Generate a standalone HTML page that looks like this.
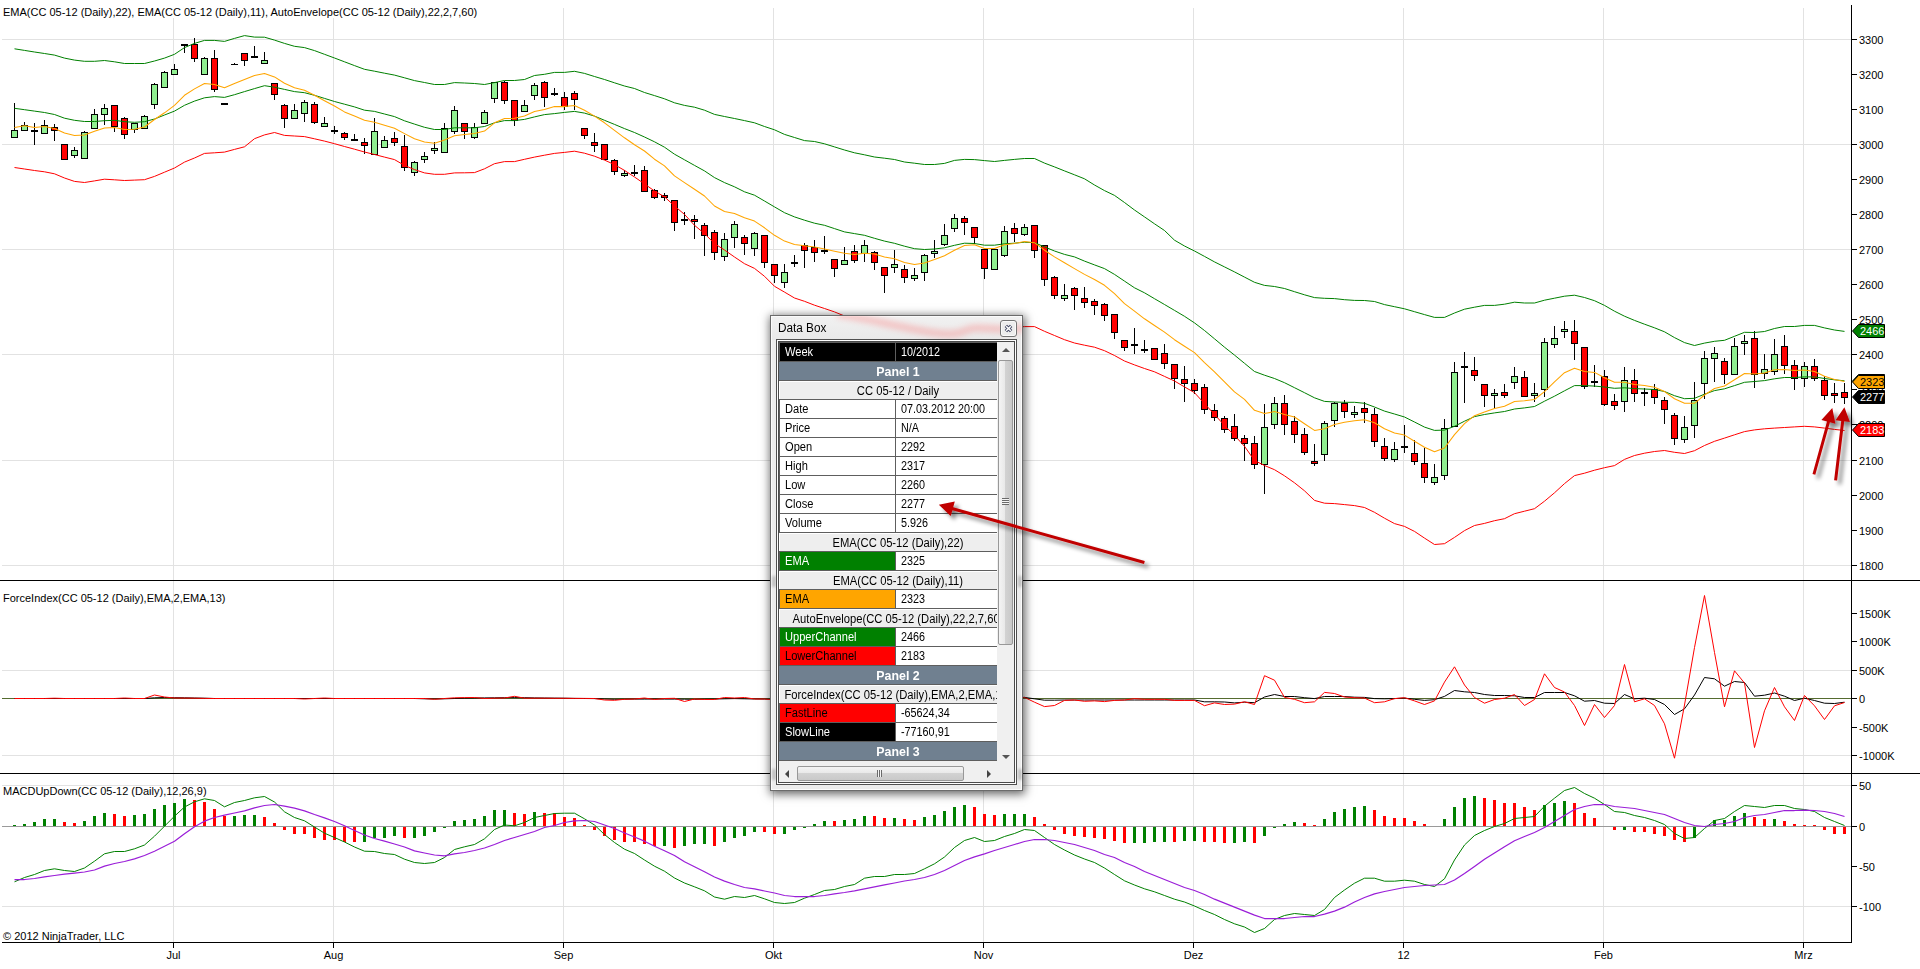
<!DOCTYPE html>
<html><head><meta charset="utf-8"><title>chart</title><style>
html,body{margin:0;padding:0;background:#fff}
body{width:1920px;height:969px;position:relative;overflow:hidden;font-family:"Liberation Sans",sans-serif}
#db{position:absolute;left:770px;top:315px;width:251px;height:474px;border:1px solid #6b6b6b;background:linear-gradient(#f1f1f1,#e9e9e9 24px,#ededed 24px,#ececec);box-shadow:0 0 0 0 #000, 1px 2px 9px 1px rgba(0,0,0,.62);}
#db:before{content:"";position:absolute;left:0;top:0;right:0;bottom:0;border:1px solid #fbfbfb;pointer-events:none}
#db .glass{position:absolute;left:0;top:0;width:251px;height:24px;overflow:hidden}
#db .ttl{position:absolute;left:7px;top:5px;font-size:12px;line-height:14px;color:#000;white-space:nowrap}
#db .ttl span{display:inline-block;transform:scale(.98,1);transform-origin:0 50%}
#db .cls{position:absolute;left:229px;top:4px;width:15px;height:15px;border:1px solid #747474;border-radius:3px;background:#ededed;box-shadow:inset 0 0 0 1px #fafafa;overflow:hidden}
#db .cls svg{position:absolute;left:-1px;top:-1px}
#db .cli{position:absolute;left:5px;top:23px;width:239px;height:444px;border:1px solid #505050}
#db .cli2{position:absolute;left:0;top:0;width:237px;height:442px;border:1px solid #fff}
#db .cli3{position:absolute;left:0;top:0;width:235px;height:440px;border:1px solid #4a4a4a;background:#f0f0f0;overflow:hidden}
#db .rows{position:absolute;left:0;top:0;width:218px;height:419px;background:#5e5e5e;overflow:hidden}
#db .r{position:absolute;left:1px;width:217px;height:18px;font-size:12px;line-height:18px;white-space:nowrap;overflow:hidden}
#db .k{position:absolute;left:0;top:0;width:115px;height:18px}
#db .dv{position:absolute;left:115px;top:0;width:1px;height:18px;background:#5e5e5e}
#db .v{position:absolute;left:116px;top:0;width:101px;height:18px}
#db .k span,#db .v span{position:absolute;left:5px;top:0;display:inline-block;transform:scale(.9,1);transform-origin:0 50%}
#db .k span{transform:scale(.925,1)}
#db .pn{background:#708090;color:#fff;font-weight:bold;left:0;width:218px}
#db .hd{background:#eee;color:#000;left:0;width:218px;box-shadow:inset 1px 1px 0 #fff}
#db .pn span,#db .hd span{position:absolute;top:1px;left:-81.5px;width:400px;text-align:center;display:block;transform:scale(.935,1);transform-origin:50% 50%}
#db .pn span{transform:scale(1.03,1)}
#db .vs{position:absolute;left:218px;top:1px;width:17px;height:421px;background:#f0f0f0}
#db .ua{position:absolute;left:5px;top:5px;width:0;height:0;border-left:4px solid transparent;border-right:4px solid transparent;border-bottom:4px solid #555}
#db .da{position:absolute;left:5px;top:412px;width:0;height:0;border-left:4px solid transparent;border-right:4px solid transparent;border-top:4px solid #555}
#db .vt{position:absolute;left:1px;top:17px;width:13px;height:283px;border:1px solid #989898;border-radius:2px;background:linear-gradient(90deg,#f4f4f4,#e9e9e9 45%,#d2d2d2 50%,#c9c9c9);box-sizing:content-box}
#db .vt i{position:absolute;left:3px;top:137px;width:7px;height:7px;background:repeating-linear-gradient(#6a6a6a 0 1px,#f4f4f4 1px 2px)}
#db .hs{position:absolute;left:0;top:423px;width:218px;height:17px;background:#f0f0f0}
#db .la{position:absolute;left:6px;top:5px;width:0;height:0;border-top:4px solid transparent;border-bottom:4px solid transparent;border-right:4px solid #444}
#db .ra{position:absolute;left:208px;top:5px;width:0;height:0;border-top:4px solid transparent;border-bottom:4px solid transparent;border-left:4px solid #444}
#db .ht{position:absolute;left:18px;top:1px;width:165px;height:13px;border:1px solid #989898;border-radius:2px;background:linear-gradient(#f4f4f4,#e9e9e9 45%,#d2d2d2 50%,#c9c9c9)}
#db .ht i{position:absolute;left:79px;top:3px;width:5px;height:7px;background:repeating-linear-gradient(90deg,#6a6a6a 0 1px,#f4f4f4 1px 2px)}
#db .see{position:absolute;margin:-5px 0 0 1px;width:4px;height:11px;background:rgba(0,0,0,.2);filter:blur(1.6px)}
#arr{position:absolute;left:0;top:0}
</style></head><body>
<svg width="1920" height="969" viewBox="0 0 1920 969" style="position:absolute;left:0;top:0">
<rect width="1920" height="969" fill="#fff"/>
<g shape-rendering="crispEdges" fill="#e2e2e2">
<rect x="2" y="39" width="1849" height="1"/>
<rect x="2" y="144" width="1849" height="1"/>
<rect x="2" y="249" width="1849" height="1"/>
<rect x="2" y="354" width="1849" height="1"/>
<rect x="2" y="460" width="1849" height="1"/>
<rect x="2" y="565" width="1849" height="1"/>
<rect x="2" y="670" width="1849" height="1"/>
<rect x="2" y="755" width="1849" height="1"/>
<rect x="2" y="785" width="1849" height="1"/>
<rect x="2" y="906" width="1849" height="1"/>
<rect x="173" y="8" width="1" height="934"/>
<rect x="333" y="8" width="1" height="934"/>
<rect x="563" y="8" width="1" height="934"/>
<rect x="773" y="8" width="1" height="934"/>
<rect x="983" y="8" width="1" height="934"/>
<rect x="1193" y="8" width="1" height="934"/>
<rect x="1403" y="8" width="1" height="934"/>
<rect x="1603" y="8" width="1" height="934"/>
<rect x="1803" y="8" width="1" height="934"/>
</g>
<rect x="2" y="826" width="1849" height="1" fill="#9a9a9a" shape-rendering="crispEdges"/>
<g shape-rendering="crispEdges" fill="#000">
<rect x="0" y="580" width="1920" height="1"/>
<rect x="0" y="773" width="1920" height="1"/>
<rect x="1851" y="5" width="1" height="938"/>
<rect x="2" y="942" width="1850" height="1"/>
<rect x="173" y="943" width="1" height="5"/>
<rect x="333" y="943" width="1" height="5"/>
<rect x="563" y="943" width="1" height="5"/>
<rect x="773" y="943" width="1" height="5"/>
<rect x="983" y="943" width="1" height="5"/>
<rect x="1193" y="943" width="1" height="5"/>
<rect x="1403" y="943" width="1" height="5"/>
<rect x="1603" y="943" width="1" height="5"/>
<rect x="1803" y="943" width="1" height="5"/>
<rect x="1852" y="39" width="5" height="1"/>
<rect x="1852" y="74" width="5" height="1"/>
<rect x="1852" y="109" width="5" height="1"/>
<rect x="1852" y="144" width="5" height="1"/>
<rect x="1852" y="179" width="5" height="1"/>
<rect x="1852" y="214" width="5" height="1"/>
<rect x="1852" y="249" width="5" height="1"/>
<rect x="1852" y="284" width="5" height="1"/>
<rect x="1852" y="319" width="5" height="1"/>
<rect x="1852" y="354" width="5" height="1"/>
<rect x="1852" y="389" width="5" height="1"/>
<rect x="1852" y="424" width="5" height="1"/>
<rect x="1852" y="460" width="5" height="1"/>
<rect x="1852" y="495" width="5" height="1"/>
<rect x="1852" y="530" width="5" height="1"/>
<rect x="1852" y="565" width="5" height="1"/>
<rect x="1852" y="613" width="5" height="1"/>
<rect x="1852" y="641" width="5" height="1"/>
<rect x="1852" y="670" width="5" height="1"/>
<rect x="1852" y="698" width="5" height="1"/>
<rect x="1852" y="727" width="5" height="1"/>
<rect x="1852" y="755" width="5" height="1"/>
<rect x="1852" y="785" width="5" height="1"/>
<rect x="1852" y="826" width="5" height="1"/>
<rect x="1852" y="866" width="5" height="1"/>
<rect x="1852" y="906" width="5" height="1"/>
</g>
<g font-family="Liberation Sans, sans-serif" font-size="11px" fill="#000">
<text x="1859" y="44">3300</text>
<text x="1859" y="79">3200</text>
<text x="1859" y="114">3100</text>
<text x="1859" y="149">3000</text>
<text x="1859" y="184">2900</text>
<text x="1859" y="219">2800</text>
<text x="1859" y="254">2700</text>
<text x="1859" y="289">2600</text>
<text x="1859" y="324">2500</text>
<text x="1859" y="359">2400</text>
<text x="1859" y="394">2300</text>
<text x="1859" y="429">2200</text>
<text x="1859" y="465">2100</text>
<text x="1859" y="500">2000</text>
<text x="1859" y="535">1900</text>
<text x="1859" y="570">1800</text>
<text x="1859" y="618">1500K</text>
<text x="1859" y="646">1000K</text>
<text x="1859" y="675">500K</text>
<text x="1859" y="703">0</text>
<text x="1859" y="732">-500K</text>
<text x="1859" y="760">-1000K</text>
<text x="1859" y="790">50</text>
<text x="1859" y="831">0</text>
<text x="1859" y="871">-50</text>
<text x="1859" y="911">-100</text>
<text x="173.5" y="959" text-anchor="middle">Jul</text>
<text x="333.5" y="959" text-anchor="middle">Aug</text>
<text x="563.5" y="959" text-anchor="middle">Sep</text>
<text x="773.5" y="959" text-anchor="middle">Okt</text>
<text x="983.5" y="959" text-anchor="middle">Nov</text>
<text x="1193.5" y="959" text-anchor="middle">Dez</text>
<text x="1403.5" y="959" text-anchor="middle">12</text>
<text x="1603.5" y="959" text-anchor="middle">Feb</text>
<text x="1803.5" y="959" text-anchor="middle">Mrz</text>
<rect x="2" y="6" width="480" height="12" fill="#fff"/>
<text x="3" y="16">EMA(CC 05-12 (Daily),22), EMA(CC 05-12 (Daily),11), AutoEnvelope(CC 05-12 (Daily),22,2,7,60)</text>
<text x="3" y="602">ForceIndex(CC 05-12 (Daily),EMA,2,EMA,13)</text>
<text x="3" y="795">MACDUpDown(CC 05-12 (Daily),12,26,9)</text>
<text x="3" y="940">© 2012 NinjaTrader, LLC</text>
</g>
<g shape-rendering="crispEdges">
<rect x="13" y="825" width="3" height="1" fill="#008000"/>
<rect x="23" y="824" width="3" height="2" fill="#008000"/>
<rect x="33" y="822" width="3" height="4" fill="#008000"/>
<rect x="43" y="819" width="3" height="7" fill="#008000"/>
<rect x="53" y="819" width="3" height="7" fill="#008000"/>
<rect x="63" y="822" width="3" height="4" fill="#ff0000"/>
<rect x="73" y="823" width="3" height="3" fill="#ff0000"/>
<rect x="83" y="821" width="3" height="5" fill="#008000"/>
<rect x="93" y="816" width="3" height="10" fill="#008000"/>
<rect x="103" y="813" width="3" height="13" fill="#008000"/>
<rect x="113" y="814" width="3" height="12" fill="#ff0000"/>
<rect x="123" y="816" width="3" height="10" fill="#ff0000"/>
<rect x="133" y="815" width="3" height="11" fill="#008000"/>
<rect x="143" y="814" width="3" height="12" fill="#008000"/>
<rect x="153" y="809" width="3" height="17" fill="#008000"/>
<rect x="163" y="805" width="3" height="21" fill="#008000"/>
<rect x="173" y="803" width="3" height="23" fill="#008000"/>
<rect x="183" y="799" width="3" height="27" fill="#008000"/>
<rect x="193" y="800" width="3" height="26" fill="#ff0000"/>
<rect x="203" y="802" width="3" height="24" fill="#ff0000"/>
<rect x="213" y="809" width="3" height="17" fill="#ff0000"/>
<rect x="223" y="816" width="3" height="10" fill="#ff0000"/>
<rect x="233" y="816" width="3" height="10" fill="#008000"/>
<rect x="243" y="815" width="3" height="11" fill="#008000"/>
<rect x="253" y="815" width="3" height="11" fill="#008000"/>
<rect x="263" y="817" width="3" height="9" fill="#ff0000"/>
<rect x="273" y="823" width="3" height="3" fill="#ff0000"/>
<rect x="283" y="827" width="3" height="3" fill="#ff0000"/>
<rect x="293" y="827" width="3" height="7" fill="#ff0000"/>
<rect x="303" y="827" width="3" height="7" fill="#ff0000"/>
<rect x="313" y="827" width="3" height="11" fill="#ff0000"/>
<rect x="323" y="827" width="3" height="13" fill="#ff0000"/>
<rect x="333" y="827" width="3" height="13" fill="#ff0000"/>
<rect x="343" y="827" width="3" height="15" fill="#ff0000"/>
<rect x="353" y="827" width="3" height="15" fill="#ff0000"/>
<rect x="363" y="827" width="3" height="15" fill="#008000"/>
<rect x="373" y="827" width="3" height="11" fill="#008000"/>
<rect x="383" y="827" width="3" height="11" fill="#008000"/>
<rect x="393" y="827" width="3" height="9" fill="#008000"/>
<rect x="403" y="827" width="3" height="11" fill="#ff0000"/>
<rect x="413" y="827" width="3" height="11" fill="#008000"/>
<rect x="423" y="827" width="3" height="9" fill="#008000"/>
<rect x="433" y="827" width="3" height="5" fill="#008000"/>
<rect x="443" y="827" width="3" height="1" fill="#008000"/>
<rect x="453" y="821" width="3" height="5" fill="#008000"/>
<rect x="463" y="820" width="3" height="6" fill="#008000"/>
<rect x="473" y="819" width="3" height="7" fill="#008000"/>
<rect x="483" y="816" width="3" height="10" fill="#008000"/>
<rect x="493" y="810" width="3" height="16" fill="#008000"/>
<rect x="503" y="810" width="3" height="16" fill="#008000"/>
<rect x="513" y="813" width="3" height="13" fill="#ff0000"/>
<rect x="523" y="814" width="3" height="12" fill="#ff0000"/>
<rect x="533" y="812" width="3" height="14" fill="#008000"/>
<rect x="543" y="813" width="3" height="13" fill="#ff0000"/>
<rect x="553" y="813" width="3" height="13" fill="#ff0000"/>
<rect x="563" y="817" width="3" height="9" fill="#ff0000"/>
<rect x="573" y="818" width="3" height="8" fill="#ff0000"/>
<rect x="583" y="825" width="3" height="1" fill="#ff0000"/>
<rect x="593" y="827" width="3" height="3" fill="#ff0000"/>
<rect x="603" y="827" width="3" height="9" fill="#ff0000"/>
<rect x="613" y="827" width="3" height="13" fill="#ff0000"/>
<rect x="623" y="827" width="3" height="15" fill="#ff0000"/>
<rect x="633" y="827" width="3" height="15" fill="#ff0000"/>
<rect x="643" y="827" width="3" height="17" fill="#ff0000"/>
<rect x="653" y="827" width="3" height="19" fill="#ff0000"/>
<rect x="663" y="827" width="3" height="19" fill="#008000"/>
<rect x="673" y="827" width="3" height="21" fill="#ff0000"/>
<rect x="683" y="827" width="3" height="19" fill="#008000"/>
<rect x="693" y="827" width="3" height="17" fill="#008000"/>
<rect x="703" y="827" width="3" height="17" fill="#008000"/>
<rect x="713" y="827" width="3" height="19" fill="#ff0000"/>
<rect x="723" y="827" width="3" height="15" fill="#008000"/>
<rect x="733" y="827" width="3" height="11" fill="#008000"/>
<rect x="743" y="827" width="3" height="9" fill="#008000"/>
<rect x="753" y="827" width="3" height="5" fill="#008000"/>
<rect x="763" y="827" width="3" height="5" fill="#ff0000"/>
<rect x="773" y="827" width="3" height="7" fill="#ff0000"/>
<rect x="783" y="827" width="3" height="7" fill="#008000"/>
<rect x="793" y="827" width="3" height="3" fill="#008000"/>
<rect x="803" y="827" width="3" height="1" fill="#008000"/>
<rect x="813" y="824" width="3" height="2" fill="#008000"/>
<rect x="823" y="821" width="3" height="5" fill="#008000"/>
<rect x="833" y="821" width="3" height="5" fill="#ff0000"/>
<rect x="843" y="820" width="3" height="6" fill="#008000"/>
<rect x="853" y="819" width="3" height="7" fill="#008000"/>
<rect x="863" y="816" width="3" height="10" fill="#008000"/>
<rect x="873" y="816" width="3" height="10" fill="#ff0000"/>
<rect x="883" y="818" width="3" height="8" fill="#ff0000"/>
<rect x="893" y="818" width="3" height="8" fill="#008000"/>
<rect x="903" y="819" width="3" height="7" fill="#ff0000"/>
<rect x="913" y="820" width="3" height="6" fill="#ff0000"/>
<rect x="923" y="817" width="3" height="9" fill="#008000"/>
<rect x="933" y="815" width="3" height="11" fill="#008000"/>
<rect x="943" y="811" width="3" height="15" fill="#008000"/>
<rect x="953" y="807" width="3" height="19" fill="#008000"/>
<rect x="963" y="805" width="3" height="21" fill="#008000"/>
<rect x="973" y="807" width="3" height="19" fill="#ff0000"/>
<rect x="983" y="814" width="3" height="12" fill="#ff0000"/>
<rect x="993" y="815" width="3" height="11" fill="#ff0000"/>
<rect x="1003" y="814" width="3" height="12" fill="#008000"/>
<rect x="1013" y="814" width="3" height="12" fill="#008000"/>
<rect x="1023" y="814" width="3" height="12" fill="#008000"/>
<rect x="1033" y="817" width="3" height="9" fill="#ff0000"/>
<rect x="1043" y="824" width="3" height="2" fill="#ff0000"/>
<rect x="1053" y="827" width="3" height="3" fill="#ff0000"/>
<rect x="1063" y="827" width="3" height="7" fill="#ff0000"/>
<rect x="1073" y="827" width="3" height="9" fill="#ff0000"/>
<rect x="1083" y="827" width="3" height="10" fill="#ff0000"/>
<rect x="1093" y="827" width="3" height="11" fill="#ff0000"/>
<rect x="1103" y="827" width="3" height="12" fill="#ff0000"/>
<rect x="1113" y="827" width="3" height="14" fill="#ff0000"/>
<rect x="1123" y="827" width="3" height="16" fill="#ff0000"/>
<rect x="1133" y="827" width="3" height="16" fill="#008000"/>
<rect x="1143" y="827" width="3" height="16" fill="#008000"/>
<rect x="1153" y="827" width="3" height="15" fill="#008000"/>
<rect x="1163" y="827" width="3" height="15" fill="#008000"/>
<rect x="1173" y="827" width="3" height="15" fill="#ff0000"/>
<rect x="1183" y="827" width="3" height="14" fill="#008000"/>
<rect x="1193" y="827" width="3" height="14" fill="#008000"/>
<rect x="1203" y="827" width="3" height="15" fill="#ff0000"/>
<rect x="1213" y="827" width="3" height="15" fill="#ff0000"/>
<rect x="1223" y="827" width="3" height="16" fill="#ff0000"/>
<rect x="1233" y="827" width="3" height="16" fill="#008000"/>
<rect x="1243" y="827" width="3" height="15" fill="#008000"/>
<rect x="1253" y="827" width="3" height="16" fill="#ff0000"/>
<rect x="1263" y="827" width="3" height="9" fill="#008000"/>
<rect x="1273" y="827" width="3" height="1" fill="#008000"/>
<rect x="1283" y="824" width="3" height="2" fill="#008000"/>
<rect x="1293" y="822" width="3" height="4" fill="#008000"/>
<rect x="1303" y="823" width="3" height="3" fill="#ff0000"/>
<rect x="1313" y="825" width="3" height="1" fill="#ff0000"/>
<rect x="1323" y="819" width="3" height="7" fill="#008000"/>
<rect x="1333" y="812" width="3" height="14" fill="#008000"/>
<rect x="1343" y="809" width="3" height="17" fill="#008000"/>
<rect x="1353" y="807" width="3" height="19" fill="#008000"/>
<rect x="1363" y="806" width="3" height="20" fill="#008000"/>
<rect x="1373" y="810" width="3" height="16" fill="#ff0000"/>
<rect x="1383" y="816" width="3" height="10" fill="#ff0000"/>
<rect x="1393" y="818" width="3" height="8" fill="#ff0000"/>
<rect x="1403" y="818" width="3" height="8" fill="#ff0000"/>
<rect x="1413" y="821" width="3" height="5" fill="#ff0000"/>
<rect x="1423" y="824" width="3" height="2" fill="#ff0000"/>
<rect x="1443" y="819" width="3" height="7" fill="#008000"/>
<rect x="1453" y="807" width="3" height="19" fill="#008000"/>
<rect x="1463" y="798" width="3" height="28" fill="#008000"/>
<rect x="1473" y="796" width="3" height="30" fill="#008000"/>
<rect x="1483" y="798" width="3" height="28" fill="#ff0000"/>
<rect x="1493" y="800" width="3" height="26" fill="#ff0000"/>
<rect x="1503" y="803" width="3" height="23" fill="#ff0000"/>
<rect x="1513" y="803" width="3" height="23" fill="#ff0000"/>
<rect x="1523" y="807" width="3" height="19" fill="#ff0000"/>
<rect x="1533" y="810" width="3" height="16" fill="#ff0000"/>
<rect x="1543" y="805" width="3" height="21" fill="#008000"/>
<rect x="1553" y="803" width="3" height="23" fill="#008000"/>
<rect x="1563" y="801" width="3" height="25" fill="#008000"/>
<rect x="1573" y="803" width="3" height="23" fill="#ff0000"/>
<rect x="1583" y="813" width="3" height="13" fill="#ff0000"/>
<rect x="1593" y="818" width="3" height="8" fill="#ff0000"/>
<rect x="1613" y="827" width="3" height="3" fill="#ff0000"/>
<rect x="1623" y="827" width="3" height="3" fill="#008000"/>
<rect x="1633" y="827" width="3" height="5" fill="#ff0000"/>
<rect x="1643" y="827" width="3" height="5" fill="#ff0000"/>
<rect x="1653" y="827" width="3" height="7" fill="#ff0000"/>
<rect x="1663" y="827" width="3" height="9" fill="#ff0000"/>
<rect x="1673" y="827" width="3" height="13" fill="#ff0000"/>
<rect x="1683" y="827" width="3" height="15" fill="#ff0000"/>
<rect x="1693" y="827" width="3" height="11" fill="#008000"/>
<rect x="1713" y="820" width="3" height="6" fill="#008000"/>
<rect x="1723" y="820" width="3" height="6" fill="#008000"/>
<rect x="1733" y="816" width="3" height="10" fill="#008000"/>
<rect x="1743" y="813" width="3" height="13" fill="#008000"/>
<rect x="1753" y="817" width="3" height="9" fill="#ff0000"/>
<rect x="1763" y="819" width="3" height="7" fill="#ff0000"/>
<rect x="1773" y="819" width="3" height="7" fill="#008000"/>
<rect x="1783" y="821" width="3" height="5" fill="#ff0000"/>
<rect x="1793" y="824" width="3" height="2" fill="#ff0000"/>
<rect x="1803" y="825" width="3" height="1" fill="#ff0000"/>
<rect x="1813" y="825" width="3" height="1" fill="#ff0000"/>
<rect x="1823" y="827" width="3" height="3" fill="#ff0000"/>
<rect x="1833" y="827" width="3" height="7" fill="#ff0000"/>
<rect x="1843" y="827" width="3" height="7" fill="#ff0000"/>
</g>
<polyline points="14.5,881.8 24.5,877.5 34.5,874.5 44.5,870.5 54.5,868.8 64.5,870.5 74.5,871.5 84.5,868.0 94.5,861.2 104.5,853.8 114.5,851.5 124.5,851.5 134.5,848.8 144.5,845.0 154.5,836.2 164.5,826.2 174.5,816.2 184.5,807.0 194.5,801.8 204.5,798.8 214.5,800.5 224.5,806.8 234.5,802.5 244.5,800.5 254.5,797.8 264.5,796.5 274.5,802.0 284.5,811.8 294.5,817.5 304.5,820.8 314.5,827.0 324.5,833.2 334.5,837.5 344.5,842.0 354.5,847.0 364.5,851.2 374.5,851.5 384.5,853.5 394.5,854.5 404.5,859.2 414.5,862.5 424.5,863.5 434.5,862.5 444.5,857.5 454.5,849.5 464.5,846.8 474.5,844.5 484.5,838.8 494.5,829.5 504.5,825.0 514.5,825.8 524.5,822.5 534.5,817.5 544.5,815.5 554.5,813.5 564.5,813.2 574.5,813.2 584.5,818.8 594.5,825.0 604.5,834.5 614.5,842.5 624.5,849.2 634.5,853.5 644.5,860.0 654.5,866.2 664.5,871.2 674.5,878.0 684.5,883.0 694.5,886.8 704.5,890.8 714.5,897.0 724.5,899.2 734.5,896.5 744.5,897.5 754.5,895.5 764.5,898.8 774.5,902.5 784.5,903.5 794.5,902.5 804.5,898.2 814.5,894.5 824.5,890.5 834.5,889.5 844.5,886.5 854.5,884.5 864.5,878.2 874.5,876.5 884.5,876.5 894.5,874.5 904.5,874.5 914.5,873.5 924.5,868.8 934.5,863.8 944.5,857.0 954.5,847.5 964.5,840.5 974.5,837.5 984.5,841.5 994.5,840.5 1004.5,836.5 1014.5,833.5 1024.5,829.5 1034.5,830.5 1044.5,837.5 1054.5,844.5 1064.5,850.0 1074.5,855.0 1084.5,859.0 1094.5,862.5 1104.5,868.0 1114.5,874.5 1124.5,880.8 1134.5,885.0 1144.5,888.8 1154.5,891.8 1164.5,895.5 1174.5,899.2 1184.5,902.0 1194.5,906.0 1204.5,910.5 1214.5,914.5 1224.5,919.5 1234.5,923.8 1244.5,927.0 1254.5,932.5 1264.5,928.5 1274.5,919.5 1284.5,915.5 1294.5,913.5 1304.5,914.5 1314.5,915.5 1324.5,909.5 1334.5,897.5 1344.5,890.0 1354.5,883.2 1364.5,878.2 1374.5,878.2 1384.5,881.2 1394.5,881.2 1404.5,880.2 1414.5,881.2 1424.5,884.5 1434.5,886.5 1444.5,878.8 1454.5,860.0 1464.5,845.0 1474.5,835.5 1484.5,830.5 1494.5,826.5 1504.5,823.5 1514.5,818.5 1524.5,817.5 1534.5,816.5 1544.5,806.2 1554.5,798.2 1564.5,790.5 1574.5,787.5 1584.5,793.5 1594.5,798.2 1604.5,804.5 1614.5,811.5 1624.5,812.5 1634.5,815.5 1644.5,817.5 1654.5,820.5 1664.5,824.5 1674.5,833.5 1684.5,838.5 1694.5,837.5 1704.5,828.5 1714.5,820.5 1724.5,818.5 1734.5,811.5 1744.5,805.5 1754.5,806.5 1764.5,807.5 1774.5,805.5 1784.5,805.5 1794.5,808.5 1804.5,809.5 1814.5,811.5 1824.5,817.5 1834.5,821.5 1844.5,825.5" fill="none" stroke="#008000" stroke-width="1.0" stroke-linejoin="round" />
<polyline points="14.5,879.5 24.5,879.5 34.5,878.5 44.5,876.8 54.5,875.5 64.5,874.2 74.5,873.2 84.5,872.0 94.5,870.0 104.5,866.2 114.5,863.5 124.5,861.5 134.5,858.8 144.5,855.5 154.5,851.2 164.5,846.2 174.5,841.2 184.5,833.8 194.5,826.8 204.5,821.2 214.5,817.5 224.5,815.2 234.5,813.0 244.5,810.8 254.5,807.8 264.5,805.5 274.5,804.5 284.5,806.2 294.5,808.2 304.5,810.8 314.5,814.5 324.5,817.8 334.5,821.5 344.5,825.8 354.5,830.5 364.5,835.0 374.5,838.5 384.5,841.2 394.5,844.0 404.5,847.0 414.5,850.8 424.5,853.0 434.5,855.0 444.5,855.8 454.5,853.8 464.5,852.5 474.5,850.5 484.5,848.0 494.5,844.5 504.5,840.5 514.5,837.5 524.5,834.5 534.5,831.5 544.5,827.5 554.5,825.5 564.5,822.5 574.5,820.8 584.5,820.5 594.5,821.5 604.5,825.0 614.5,828.5 624.5,833.0 634.5,837.0 644.5,841.2 654.5,846.2 664.5,850.8 674.5,855.5 684.5,861.8 694.5,866.8 704.5,871.8 714.5,877.0 724.5,881.2 734.5,884.5 744.5,887.5 754.5,888.8 764.5,891.0 774.5,893.0 784.5,895.5 794.5,896.5 804.5,896.5 814.5,896.5 824.5,895.5 834.5,893.8 844.5,892.5 854.5,890.8 864.5,888.8 874.5,886.8 884.5,884.8 894.5,883.0 904.5,881.0 914.5,879.5 924.5,877.5 934.5,874.5 944.5,870.5 954.5,865.5 964.5,860.5 974.5,856.8 984.5,853.8 994.5,850.5 1004.5,847.5 1014.5,844.5 1024.5,841.5 1034.5,839.5 1044.5,839.5 1054.5,840.5 1064.5,842.5 1074.5,844.5 1084.5,847.5 1094.5,850.5 1104.5,854.5 1114.5,857.5 1124.5,862.5 1134.5,866.5 1144.5,871.5 1154.5,875.5 1164.5,879.5 1174.5,883.5 1184.5,887.5 1194.5,890.5 1204.5,894.5 1214.5,899.2 1224.5,903.2 1234.5,907.2 1244.5,911.2 1254.5,915.2 1264.5,918.5 1274.5,918.5 1284.5,918.5 1294.5,917.5 1304.5,916.5 1314.5,916.5 1324.5,914.2 1334.5,911.2 1344.5,907.2 1354.5,902.0 1364.5,897.5 1374.5,893.8 1384.5,891.5 1394.5,889.5 1404.5,887.5 1414.5,886.5 1424.5,885.5 1434.5,885.0 1444.5,884.5 1454.5,880.0 1464.5,873.5 1474.5,866.5 1484.5,859.2 1494.5,853.0 1504.5,846.8 1514.5,840.8 1524.5,836.5 1534.5,832.5 1544.5,827.5 1554.5,821.5 1564.5,815.5 1574.5,809.5 1584.5,806.5 1594.5,804.5 1604.5,804.5 1614.5,806.5 1624.5,807.5 1634.5,808.5 1644.5,810.5 1654.5,812.5 1664.5,814.5 1674.5,818.5 1684.5,822.5 1694.5,825.5 1704.5,826.5 1714.5,824.5 1724.5,823.5 1734.5,821.5 1744.5,817.5 1754.5,815.5 1764.5,814.5 1774.5,812.5 1784.5,810.5 1794.5,810.5 1804.5,810.2 1814.5,810.5 1824.5,811.5 1834.5,813.5 1844.5,816.5" fill="none" stroke="#9a1ed8" stroke-width="1.25" stroke-linejoin="round" />
<rect x="2" y="698" width="1849" height="1" fill="#556b2f" shape-rendering="crispEdges"/>
<polyline points="14.5,698.5 24.5,698.5 34.5,698.5 44.5,698.5 54.5,698.5 64.5,698.5 74.5,698.5 84.5,698.5 94.5,698.5 104.5,698.5 114.5,698.5 124.5,698.5 134.5,698.5 144.5,698.5 154.5,697.8 164.5,697.5 174.5,697.7 184.5,697.8 194.5,698.0 204.5,698.2 214.5,698.5 224.5,698.5 234.5,698.5 244.5,698.5 254.5,698.5 264.5,698.5 274.5,698.5 284.5,698.5 294.5,698.5 304.5,698.5 314.5,698.5 324.5,698.5 334.5,698.5 344.5,698.5 354.5,698.5 364.5,698.5 374.5,698.5 384.5,698.5 394.5,698.5 404.5,698.5 414.5,698.5 424.5,698.8 434.5,699.0 444.5,698.8 454.5,698.5 464.5,698.2 474.5,698.0 484.5,697.9 494.5,697.8 504.5,697.7 514.5,697.6 524.5,697.7 534.5,697.9 544.5,698.0 554.5,698.1 564.5,698.2 574.5,698.4 584.5,698.5 594.5,698.6 604.5,699.0 614.5,699.3 624.5,699.2 634.5,699.1 644.5,699.1 654.5,699.0 664.5,699.1 674.5,699.1 684.5,699.2 694.5,699.3 704.5,699.1 714.5,699.0 724.5,698.8 734.5,698.6 744.5,698.8 754.5,699.0 764.5,699.1 774.5,699.3 784.5,699.6 794.5,700.0 804.5,699.9 814.5,699.8 824.5,699.7 834.5,699.6 844.5,699.5 854.5,699.5 864.5,699.4 874.5,699.3 884.5,699.2 894.5,699.1 904.5,699.0 914.5,698.9 924.5,698.8 934.5,698.7 944.5,698.6 954.5,698.5 964.5,698.5 974.5,698.4 984.5,698.3 994.5,698.2 1004.5,698.1 1014.5,698.0 1024.5,697.4 1034.5,698.8 1044.5,700.2 1054.5,700.2 1064.5,700.0 1074.5,700.0 1084.5,700.0 1094.5,700.0 1104.5,700.0 1114.5,700.0 1124.5,700.0 1134.5,700.0 1144.5,700.0 1154.5,700.0 1164.5,700.0 1174.5,700.0 1184.5,700.0 1194.5,700.0 1204.5,701.8 1214.5,701.8 1224.5,702.0 1234.5,702.9 1244.5,702.2 1254.5,702.7 1264.5,697.0 1274.5,694.5 1284.5,696.5 1294.5,696.5 1304.5,697.7 1314.5,698.6 1324.5,696.5 1334.5,696.5 1344.5,696.5 1354.5,697.2 1364.5,697.4 1374.5,698.6 1384.5,698.8 1394.5,698.6 1404.5,698.1 1414.5,699.3 1424.5,700.4 1434.5,699.7 1444.5,696.4 1454.5,690.5 1464.5,691.8 1474.5,692.5 1484.5,694.5 1494.5,695.5 1504.5,695.5 1514.5,695.8 1524.5,697.5 1534.5,697.5 1544.5,692.5 1554.5,692.5 1564.5,692.5 1574.5,695.8 1584.5,701.2 1594.5,700.5 1604.5,703.2 1614.5,703.5 1624.5,694.5 1634.5,698.8 1644.5,698.2 1654.5,699.5 1664.5,704.5 1674.5,714.5 1684.5,708.8 1694.5,695.0 1704.5,677.5 1714.5,678.8 1724.5,686.2 1734.5,681.5 1744.5,682.5 1754.5,696.2 1764.5,695.2 1774.5,693.0 1784.5,696.2 1794.5,700.5 1804.5,698.2 1814.5,700.5 1824.5,703.2 1834.5,703.5 1844.5,702.2" fill="none" stroke="#000" stroke-width="1.0" stroke-linejoin="round" />
<polyline points="14.5,698.5 24.5,698.5 34.5,698.5 44.5,698.5 54.5,698.2 64.5,698.5 74.5,698.5 84.5,698.5 94.5,698.5 104.5,698.5 114.5,698.5 124.5,698.0 134.5,698.5 144.5,698.5 154.5,695.0 164.5,697.0 174.5,698.0 184.5,698.1 194.5,698.2 204.5,698.4 214.5,698.5 224.5,698.5 234.5,698.5 244.5,698.5 254.5,698.5 264.5,698.5 274.5,698.5 284.5,698.5 294.5,698.5 304.5,699.0 314.5,698.5 324.5,698.0 334.5,698.5 344.5,698.5 354.5,698.5 364.5,698.5 374.5,698.5 384.5,698.5 394.5,698.5 404.5,698.5 414.5,698.5 424.5,698.5 434.5,699.3 444.5,698.5 454.5,697.8 464.5,697.6 474.5,697.5 484.5,698.5 494.5,698.2 504.5,698.0 514.5,696.3 524.5,698.2 534.5,698.2 544.5,698.2 554.5,698.3 564.5,698.3 574.5,698.4 584.5,698.4 594.5,698.5 604.5,700.0 614.5,700.3 624.5,699.3 634.5,699.0 644.5,698.0 654.5,699.5 664.5,698.5 674.5,698.3 684.5,701.5 694.5,699.0 704.5,699.5 714.5,699.5 724.5,697.5 734.5,698.0 744.5,697.5 754.5,699.0 764.5,699.0 774.5,700.0 784.5,701.5 794.5,701.3 804.5,701.2 814.5,701.0 824.5,700.9 834.5,700.7 844.5,700.6 854.5,700.4 864.5,700.3 874.5,700.1 884.5,700.0 894.5,699.8 904.5,699.7 914.5,699.5 924.5,699.4 934.5,699.2 944.5,699.1 954.5,698.9 964.5,698.8 974.5,698.6 984.5,698.5 994.5,698.3 1004.5,698.2 1014.5,698.0 1024.5,697.4 1034.5,702.2 1044.5,706.6 1054.5,705.5 1064.5,700.4 1074.5,700.0 1084.5,701.3 1094.5,700.9 1104.5,701.6 1114.5,700.4 1124.5,700.0 1134.5,698.6 1144.5,699.3 1154.5,699.3 1164.5,699.3 1174.5,700.4 1184.5,700.4 1194.5,700.4 1204.5,705.7 1214.5,702.9 1224.5,704.5 1234.5,704.1 1244.5,701.8 1254.5,704.5 1264.5,675.7 1274.5,680.2 1284.5,697.4 1294.5,699.3 1304.5,702.7 1314.5,701.8 1324.5,692.4 1334.5,693.5 1344.5,697.0 1354.5,697.7 1364.5,698.1 1374.5,702.7 1384.5,701.8 1394.5,698.6 1404.5,697.7 1414.5,700.9 1424.5,704.5 1434.5,700.9 1444.5,682.1 1454.5,666.8 1464.5,685.0 1474.5,697.5 1484.5,703.2 1494.5,699.5 1504.5,698.2 1514.5,694.5 1524.5,705.5 1534.5,699.5 1544.5,673.8 1554.5,687.5 1564.5,692.0 1574.5,705.5 1584.5,725.5 1594.5,704.5 1604.5,717.5 1614.5,705.5 1624.5,664.5 1634.5,701.8 1644.5,698.8 1654.5,705.5 1664.5,723.8 1674.5,758.2 1684.5,705.0 1694.5,647.5 1704.5,595.5 1714.5,652.5 1724.5,706.8 1734.5,670.8 1744.5,683.0 1754.5,747.5 1764.5,710.8 1774.5,687.5 1784.5,706.8 1794.5,720.5 1804.5,695.5 1814.5,705.8 1824.5,719.5 1834.5,705.8 1844.5,702.5" fill="none" stroke="#ff0000" stroke-width="1.0" stroke-linejoin="round" />
<g shape-rendering="crispEdges">
<rect x="14" y="103" width="1" height="35" fill="#000"/>
<rect x="11" y="130" width="7" height="8" fill="#000"/>
<rect x="12" y="131" width="5" height="6" fill="#90ee90"/>
<rect x="24" y="122" width="1" height="9" fill="#000"/>
<rect x="21" y="125" width="7" height="6" fill="#000"/>
<rect x="22" y="126" width="5" height="4" fill="#90ee90"/>
<rect x="34" y="123" width="1" height="22" fill="#000"/>
<rect x="31" y="130" width="7" height="2" fill="#000"/>
<rect x="44" y="120" width="1" height="14" fill="#000"/>
<rect x="41" y="125" width="7" height="9" fill="#000"/>
<rect x="42" y="126" width="5" height="7" fill="#90ee90"/>
<rect x="54" y="124" width="1" height="17" fill="#000"/>
<rect x="51" y="127" width="7" height="4" fill="#000"/>
<rect x="52" y="128" width="5" height="2" fill="#ff0000"/>
<rect x="64" y="144" width="1" height="16" fill="#000"/>
<rect x="61" y="144" width="7" height="16" fill="#000"/>
<rect x="62" y="145" width="5" height="14" fill="#ff0000"/>
<rect x="74" y="147" width="1" height="11" fill="#000"/>
<rect x="71" y="150" width="7" height="6" fill="#000"/>
<rect x="72" y="151" width="5" height="4" fill="#90ee90"/>
<rect x="84" y="131" width="1" height="28" fill="#000"/>
<rect x="81" y="132" width="7" height="27" fill="#000"/>
<rect x="82" y="133" width="5" height="25" fill="#90ee90"/>
<rect x="94" y="109" width="1" height="20" fill="#000"/>
<rect x="91" y="114" width="7" height="15" fill="#000"/>
<rect x="92" y="115" width="5" height="13" fill="#90ee90"/>
<rect x="104" y="104" width="1" height="21" fill="#000"/>
<rect x="101" y="108" width="7" height="7" fill="#000"/>
<rect x="102" y="109" width="5" height="5" fill="#90ee90"/>
<rect x="114" y="105" width="1" height="27" fill="#000"/>
<rect x="111" y="105" width="7" height="22" fill="#000"/>
<rect x="112" y="106" width="5" height="20" fill="#ff0000"/>
<rect x="124" y="117" width="1" height="22" fill="#000"/>
<rect x="121" y="118" width="7" height="17" fill="#000"/>
<rect x="122" y="119" width="5" height="15" fill="#ff0000"/>
<rect x="134" y="123" width="1" height="10" fill="#000"/>
<rect x="131" y="123" width="7" height="7" fill="#000"/>
<rect x="132" y="124" width="5" height="5" fill="#90ee90"/>
<rect x="144" y="115" width="1" height="14" fill="#000"/>
<rect x="141" y="116" width="7" height="13" fill="#000"/>
<rect x="142" y="117" width="5" height="11" fill="#90ee90"/>
<rect x="154" y="83" width="1" height="26" fill="#000"/>
<rect x="151" y="84" width="7" height="21" fill="#000"/>
<rect x="152" y="85" width="5" height="19" fill="#90ee90"/>
<rect x="164" y="71" width="1" height="17" fill="#000"/>
<rect x="161" y="72" width="7" height="16" fill="#000"/>
<rect x="162" y="73" width="5" height="14" fill="#90ee90"/>
<rect x="174" y="64" width="1" height="11" fill="#000"/>
<rect x="171" y="69" width="7" height="6" fill="#000"/>
<rect x="172" y="70" width="5" height="4" fill="#90ee90"/>
<rect x="184" y="44" width="1" height="9" fill="#000"/>
<rect x="181" y="44" width="7" height="2" fill="#000"/>
<rect x="194" y="38" width="1" height="24" fill="#000"/>
<rect x="191" y="44" width="7" height="15" fill="#000"/>
<rect x="192" y="45" width="5" height="13" fill="#ff0000"/>
<rect x="204" y="57" width="1" height="18" fill="#000"/>
<rect x="201" y="58" width="7" height="17" fill="#000"/>
<rect x="202" y="59" width="5" height="15" fill="#90ee90"/>
<rect x="214" y="50" width="1" height="42" fill="#000"/>
<rect x="211" y="58" width="7" height="32" fill="#000"/>
<rect x="212" y="59" width="5" height="30" fill="#ff0000"/>
<rect x="224" y="103" width="1" height="2" fill="#000"/>
<rect x="221" y="103" width="7" height="2" fill="#000"/>
<rect x="234" y="63" width="1" height="2" fill="#000"/>
<rect x="231" y="64" width="7" height="1" fill="#000"/>
<rect x="244" y="53" width="1" height="13" fill="#000"/>
<rect x="241" y="53" width="7" height="8" fill="#000"/>
<rect x="242" y="54" width="5" height="6" fill="#ff0000"/>
<rect x="254" y="46" width="1" height="12" fill="#000"/>
<rect x="251" y="56" width="7" height="2" fill="#000"/>
<rect x="264" y="52" width="1" height="12" fill="#000"/>
<rect x="261" y="60" width="7" height="4" fill="#000"/>
<rect x="262" y="61" width="5" height="2" fill="#90ee90"/>
<rect x="274" y="83" width="1" height="17" fill="#000"/>
<rect x="271" y="83" width="7" height="12" fill="#000"/>
<rect x="272" y="84" width="5" height="10" fill="#ff0000"/>
<rect x="284" y="104" width="1" height="24" fill="#000"/>
<rect x="281" y="105" width="7" height="14" fill="#000"/>
<rect x="282" y="106" width="5" height="12" fill="#ff0000"/>
<rect x="294" y="104" width="1" height="15" fill="#000"/>
<rect x="291" y="110" width="7" height="9" fill="#000"/>
<rect x="292" y="111" width="5" height="7" fill="#90ee90"/>
<rect x="304" y="100" width="1" height="22" fill="#000"/>
<rect x="301" y="102" width="7" height="12" fill="#000"/>
<rect x="302" y="103" width="5" height="10" fill="#90ee90"/>
<rect x="314" y="102" width="1" height="22" fill="#000"/>
<rect x="311" y="104" width="7" height="19" fill="#000"/>
<rect x="312" y="105" width="5" height="17" fill="#ff0000"/>
<rect x="324" y="117" width="1" height="10" fill="#000"/>
<rect x="321" y="123" width="7" height="4" fill="#000"/>
<rect x="322" y="124" width="5" height="2" fill="#90ee90"/>
<rect x="334" y="126" width="1" height="8" fill="#000"/>
<rect x="331" y="130" width="7" height="2" fill="#000"/>
<rect x="344" y="132" width="1" height="8" fill="#000"/>
<rect x="341" y="133" width="7" height="5" fill="#000"/>
<rect x="342" y="134" width="5" height="3" fill="#ff0000"/>
<rect x="354" y="134" width="1" height="7" fill="#000"/>
<rect x="351" y="139" width="7" height="2" fill="#000"/>
<rect x="364" y="138" width="1" height="16" fill="#000"/>
<rect x="361" y="142" width="7" height="4" fill="#000"/>
<rect x="362" y="143" width="5" height="2" fill="#ff0000"/>
<rect x="374" y="118" width="1" height="37" fill="#000"/>
<rect x="371" y="131" width="7" height="24" fill="#000"/>
<rect x="372" y="132" width="5" height="22" fill="#90ee90"/>
<rect x="384" y="136" width="1" height="12" fill="#000"/>
<rect x="381" y="140" width="7" height="8" fill="#000"/>
<rect x="382" y="141" width="5" height="6" fill="#90ee90"/>
<rect x="394" y="132" width="1" height="14" fill="#000"/>
<rect x="391" y="138" width="7" height="5" fill="#000"/>
<rect x="392" y="139" width="5" height="3" fill="#ff0000"/>
<rect x="404" y="135" width="1" height="36" fill="#000"/>
<rect x="401" y="146" width="7" height="22" fill="#000"/>
<rect x="402" y="147" width="5" height="20" fill="#ff0000"/>
<rect x="414" y="161" width="1" height="15" fill="#000"/>
<rect x="411" y="162" width="7" height="11" fill="#000"/>
<rect x="412" y="163" width="5" height="9" fill="#90ee90"/>
<rect x="424" y="152" width="1" height="11" fill="#000"/>
<rect x="421" y="156" width="7" height="4" fill="#000"/>
<rect x="422" y="157" width="5" height="2" fill="#90ee90"/>
<rect x="434" y="142" width="1" height="12" fill="#000"/>
<rect x="431" y="148" width="7" height="3" fill="#000"/>
<rect x="432" y="149" width="5" height="1" fill="#90ee90"/>
<rect x="444" y="123" width="1" height="30" fill="#000"/>
<rect x="441" y="128" width="7" height="25" fill="#000"/>
<rect x="442" y="129" width="5" height="23" fill="#90ee90"/>
<rect x="454" y="106" width="1" height="28" fill="#000"/>
<rect x="451" y="110" width="7" height="22" fill="#000"/>
<rect x="452" y="111" width="5" height="20" fill="#90ee90"/>
<rect x="464" y="123" width="1" height="16" fill="#000"/>
<rect x="461" y="123" width="7" height="9" fill="#000"/>
<rect x="462" y="124" width="5" height="7" fill="#ff0000"/>
<rect x="474" y="123" width="1" height="16" fill="#000"/>
<rect x="471" y="127" width="7" height="11" fill="#000"/>
<rect x="472" y="128" width="5" height="9" fill="#90ee90"/>
<rect x="484" y="110" width="1" height="14" fill="#000"/>
<rect x="481" y="112" width="7" height="12" fill="#000"/>
<rect x="482" y="113" width="5" height="10" fill="#90ee90"/>
<rect x="494" y="82" width="1" height="21" fill="#000"/>
<rect x="491" y="82" width="7" height="17" fill="#000"/>
<rect x="492" y="83" width="5" height="15" fill="#90ee90"/>
<rect x="504" y="81" width="1" height="23" fill="#000"/>
<rect x="501" y="82" width="7" height="19" fill="#000"/>
<rect x="502" y="83" width="5" height="17" fill="#ff0000"/>
<rect x="514" y="100" width="1" height="26" fill="#000"/>
<rect x="511" y="100" width="7" height="21" fill="#000"/>
<rect x="512" y="101" width="5" height="19" fill="#ff0000"/>
<rect x="524" y="100" width="1" height="12" fill="#000"/>
<rect x="521" y="105" width="7" height="7" fill="#000"/>
<rect x="522" y="106" width="5" height="5" fill="#90ee90"/>
<rect x="534" y="83" width="1" height="17" fill="#000"/>
<rect x="531" y="85" width="7" height="11" fill="#000"/>
<rect x="532" y="86" width="5" height="9" fill="#90ee90"/>
<rect x="544" y="81" width="1" height="26" fill="#000"/>
<rect x="541" y="82" width="7" height="16" fill="#000"/>
<rect x="542" y="83" width="5" height="14" fill="#ff0000"/>
<rect x="554" y="88" width="1" height="8" fill="#000"/>
<rect x="551" y="93" width="7" height="2" fill="#000"/>
<rect x="564" y="92" width="1" height="18" fill="#000"/>
<rect x="561" y="97" width="7" height="10" fill="#000"/>
<rect x="562" y="98" width="5" height="8" fill="#ff0000"/>
<rect x="574" y="91" width="1" height="19" fill="#000"/>
<rect x="571" y="93" width="7" height="7" fill="#000"/>
<rect x="572" y="94" width="5" height="5" fill="#ff0000"/>
<rect x="584" y="128" width="1" height="11" fill="#000"/>
<rect x="581" y="128" width="7" height="8" fill="#000"/>
<rect x="582" y="129" width="5" height="6" fill="#ff0000"/>
<rect x="594" y="133" width="1" height="19" fill="#000"/>
<rect x="591" y="142" width="7" height="4" fill="#000"/>
<rect x="592" y="143" width="5" height="2" fill="#ff0000"/>
<rect x="604" y="144" width="1" height="16" fill="#000"/>
<rect x="601" y="144" width="7" height="16" fill="#000"/>
<rect x="602" y="145" width="5" height="14" fill="#ff0000"/>
<rect x="614" y="159" width="1" height="16" fill="#000"/>
<rect x="611" y="160" width="7" height="12" fill="#000"/>
<rect x="612" y="161" width="5" height="10" fill="#ff0000"/>
<rect x="624" y="170" width="1" height="7" fill="#000"/>
<rect x="621" y="173" width="7" height="3" fill="#000"/>
<rect x="622" y="174" width="5" height="1" fill="#90ee90"/>
<rect x="634" y="165" width="1" height="11" fill="#000"/>
<rect x="631" y="172" width="7" height="2" fill="#000"/>
<rect x="644" y="166" width="1" height="26" fill="#000"/>
<rect x="641" y="170" width="7" height="22" fill="#000"/>
<rect x="642" y="171" width="5" height="20" fill="#ff0000"/>
<rect x="654" y="189" width="1" height="10" fill="#000"/>
<rect x="651" y="190" width="7" height="8" fill="#000"/>
<rect x="652" y="191" width="5" height="6" fill="#ff0000"/>
<rect x="664" y="193" width="1" height="8" fill="#000"/>
<rect x="661" y="195" width="7" height="3" fill="#000"/>
<rect x="662" y="196" width="5" height="1" fill="#ff0000"/>
<rect x="674" y="200" width="1" height="31" fill="#000"/>
<rect x="671" y="200" width="7" height="23" fill="#000"/>
<rect x="672" y="201" width="5" height="21" fill="#ff0000"/>
<rect x="684" y="212" width="1" height="13" fill="#000"/>
<rect x="681" y="219" width="7" height="2" fill="#000"/>
<rect x="694" y="215" width="1" height="24" fill="#000"/>
<rect x="691" y="219" width="7" height="3" fill="#000"/>
<rect x="692" y="220" width="5" height="1" fill="#ff0000"/>
<rect x="704" y="223" width="1" height="33" fill="#000"/>
<rect x="701" y="225" width="7" height="11" fill="#000"/>
<rect x="702" y="226" width="5" height="9" fill="#ff0000"/>
<rect x="714" y="230" width="1" height="30" fill="#000"/>
<rect x="711" y="232" width="7" height="21" fill="#000"/>
<rect x="712" y="233" width="5" height="19" fill="#ff0000"/>
<rect x="724" y="233" width="1" height="28" fill="#000"/>
<rect x="721" y="239" width="7" height="18" fill="#000"/>
<rect x="722" y="240" width="5" height="16" fill="#90ee90"/>
<rect x="734" y="221" width="1" height="27" fill="#000"/>
<rect x="731" y="224" width="7" height="14" fill="#000"/>
<rect x="732" y="225" width="5" height="12" fill="#90ee90"/>
<rect x="744" y="235" width="1" height="20" fill="#000"/>
<rect x="741" y="237" width="7" height="7" fill="#000"/>
<rect x="742" y="238" width="5" height="5" fill="#ff0000"/>
<rect x="754" y="232" width="1" height="24" fill="#000"/>
<rect x="751" y="233" width="7" height="16" fill="#000"/>
<rect x="752" y="234" width="5" height="14" fill="#90ee90"/>
<rect x="764" y="235" width="1" height="33" fill="#000"/>
<rect x="761" y="235" width="7" height="28" fill="#000"/>
<rect x="762" y="236" width="5" height="26" fill="#ff0000"/>
<rect x="774" y="264" width="1" height="19" fill="#000"/>
<rect x="771" y="264" width="7" height="12" fill="#000"/>
<rect x="772" y="265" width="5" height="10" fill="#ff0000"/>
<rect x="784" y="264" width="1" height="24" fill="#000"/>
<rect x="781" y="272" width="7" height="11" fill="#000"/>
<rect x="782" y="273" width="5" height="9" fill="#90ee90"/>
<rect x="794" y="255" width="1" height="12" fill="#000"/>
<rect x="791" y="262" width="7" height="2" fill="#000"/>
<rect x="804" y="243" width="1" height="25" fill="#000"/>
<rect x="801" y="245" width="7" height="6" fill="#000"/>
<rect x="802" y="246" width="5" height="4" fill="#ff0000"/>
<rect x="814" y="240" width="1" height="22" fill="#000"/>
<rect x="811" y="247" width="7" height="6" fill="#000"/>
<rect x="812" y="248" width="5" height="4" fill="#ff0000"/>
<rect x="824" y="236" width="1" height="18" fill="#000"/>
<rect x="821" y="250" width="7" height="2" fill="#000"/>
<rect x="834" y="259" width="1" height="18" fill="#000"/>
<rect x="831" y="259" width="7" height="10" fill="#000"/>
<rect x="832" y="260" width="5" height="8" fill="#ff0000"/>
<rect x="844" y="247" width="1" height="18" fill="#000"/>
<rect x="841" y="260" width="7" height="5" fill="#000"/>
<rect x="842" y="261" width="5" height="3" fill="#90ee90"/>
<rect x="854" y="245" width="1" height="18" fill="#000"/>
<rect x="851" y="251" width="7" height="10" fill="#000"/>
<rect x="852" y="252" width="5" height="8" fill="#ff0000"/>
<rect x="864" y="240" width="1" height="22" fill="#000"/>
<rect x="861" y="245" width="7" height="9" fill="#000"/>
<rect x="862" y="246" width="5" height="7" fill="#90ee90"/>
<rect x="874" y="251" width="1" height="19" fill="#000"/>
<rect x="871" y="252" width="7" height="11" fill="#000"/>
<rect x="872" y="253" width="5" height="9" fill="#ff0000"/>
<rect x="884" y="267" width="1" height="26" fill="#000"/>
<rect x="881" y="267" width="7" height="9" fill="#000"/>
<rect x="882" y="268" width="5" height="7" fill="#ff0000"/>
<rect x="894" y="250" width="1" height="23" fill="#000"/>
<rect x="891" y="264" width="7" height="4" fill="#000"/>
<rect x="892" y="265" width="5" height="2" fill="#90ee90"/>
<rect x="904" y="265" width="1" height="18" fill="#000"/>
<rect x="901" y="269" width="7" height="9" fill="#000"/>
<rect x="902" y="270" width="5" height="7" fill="#ff0000"/>
<rect x="914" y="268" width="1" height="13" fill="#000"/>
<rect x="911" y="275" width="7" height="4" fill="#000"/>
<rect x="912" y="276" width="5" height="2" fill="#90ee90"/>
<rect x="924" y="254" width="1" height="27" fill="#000"/>
<rect x="921" y="255" width="7" height="18" fill="#000"/>
<rect x="922" y="256" width="5" height="16" fill="#90ee90"/>
<rect x="934" y="240" width="1" height="18" fill="#000"/>
<rect x="931" y="251" width="7" height="3" fill="#000"/>
<rect x="932" y="252" width="5" height="1" fill="#90ee90"/>
<rect x="944" y="224" width="1" height="22" fill="#000"/>
<rect x="941" y="235" width="7" height="10" fill="#000"/>
<rect x="942" y="236" width="5" height="8" fill="#90ee90"/>
<rect x="954" y="214" width="1" height="18" fill="#000"/>
<rect x="951" y="218" width="7" height="11" fill="#000"/>
<rect x="952" y="219" width="5" height="9" fill="#90ee90"/>
<rect x="964" y="216" width="1" height="19" fill="#000"/>
<rect x="961" y="218" width="7" height="5" fill="#000"/>
<rect x="962" y="219" width="5" height="3" fill="#ff0000"/>
<rect x="974" y="227" width="1" height="17" fill="#000"/>
<rect x="971" y="227" width="7" height="11" fill="#000"/>
<rect x="972" y="228" width="5" height="9" fill="#ff0000"/>
<rect x="984" y="249" width="1" height="30" fill="#000"/>
<rect x="981" y="249" width="7" height="20" fill="#000"/>
<rect x="982" y="250" width="5" height="18" fill="#ff0000"/>
<rect x="994" y="249" width="1" height="21" fill="#000"/>
<rect x="991" y="249" width="7" height="21" fill="#000"/>
<rect x="992" y="250" width="5" height="19" fill="#90ee90"/>
<rect x="1004" y="226" width="1" height="31" fill="#000"/>
<rect x="1001" y="231" width="7" height="25" fill="#000"/>
<rect x="1002" y="232" width="5" height="23" fill="#90ee90"/>
<rect x="1014" y="223" width="1" height="19" fill="#000"/>
<rect x="1011" y="228" width="7" height="6" fill="#000"/>
<rect x="1012" y="229" width="5" height="4" fill="#ff0000"/>
<rect x="1024" y="224" width="1" height="12" fill="#000"/>
<rect x="1021" y="227" width="7" height="8" fill="#000"/>
<rect x="1022" y="228" width="5" height="6" fill="#90ee90"/>
<rect x="1034" y="225" width="1" height="33" fill="#000"/>
<rect x="1031" y="225" width="7" height="26" fill="#000"/>
<rect x="1032" y="226" width="5" height="24" fill="#ff0000"/>
<rect x="1044" y="245" width="1" height="41" fill="#000"/>
<rect x="1041" y="245" width="7" height="35" fill="#000"/>
<rect x="1042" y="246" width="5" height="33" fill="#ff0000"/>
<rect x="1054" y="276" width="1" height="23" fill="#000"/>
<rect x="1051" y="277" width="7" height="19" fill="#000"/>
<rect x="1052" y="278" width="5" height="17" fill="#ff0000"/>
<rect x="1064" y="284" width="1" height="17" fill="#000"/>
<rect x="1061" y="295" width="7" height="4" fill="#000"/>
<rect x="1062" y="296" width="5" height="2" fill="#90ee90"/>
<rect x="1074" y="287" width="1" height="23" fill="#000"/>
<rect x="1071" y="288" width="7" height="8" fill="#000"/>
<rect x="1072" y="289" width="5" height="6" fill="#ff0000"/>
<rect x="1084" y="287" width="1" height="21" fill="#000"/>
<rect x="1081" y="298" width="7" height="5" fill="#000"/>
<rect x="1082" y="299" width="5" height="3" fill="#ff0000"/>
<rect x="1094" y="299" width="1" height="16" fill="#000"/>
<rect x="1091" y="301" width="7" height="5" fill="#000"/>
<rect x="1092" y="302" width="5" height="3" fill="#ff0000"/>
<rect x="1104" y="303" width="1" height="18" fill="#000"/>
<rect x="1101" y="304" width="7" height="12" fill="#000"/>
<rect x="1102" y="305" width="5" height="10" fill="#ff0000"/>
<rect x="1114" y="314" width="1" height="25" fill="#000"/>
<rect x="1111" y="314" width="7" height="19" fill="#000"/>
<rect x="1112" y="315" width="5" height="17" fill="#ff0000"/>
<rect x="1124" y="340" width="1" height="11" fill="#000"/>
<rect x="1121" y="340" width="7" height="8" fill="#000"/>
<rect x="1122" y="341" width="5" height="6" fill="#ff0000"/>
<rect x="1134" y="328" width="1" height="26" fill="#000"/>
<rect x="1131" y="344" width="7" height="2" fill="#000"/>
<rect x="1144" y="340" width="1" height="13" fill="#000"/>
<rect x="1141" y="349" width="7" height="2" fill="#000"/>
<rect x="1154" y="348" width="1" height="12" fill="#000"/>
<rect x="1151" y="348" width="7" height="12" fill="#000"/>
<rect x="1152" y="349" width="5" height="10" fill="#ff0000"/>
<rect x="1164" y="344" width="1" height="25" fill="#000"/>
<rect x="1161" y="353" width="7" height="11" fill="#000"/>
<rect x="1162" y="354" width="5" height="9" fill="#ff0000"/>
<rect x="1174" y="364" width="1" height="25" fill="#000"/>
<rect x="1171" y="364" width="7" height="15" fill="#000"/>
<rect x="1172" y="365" width="5" height="13" fill="#ff0000"/>
<rect x="1184" y="366" width="1" height="36" fill="#000"/>
<rect x="1181" y="379" width="7" height="5" fill="#000"/>
<rect x="1182" y="380" width="5" height="3" fill="#ff0000"/>
<rect x="1194" y="379" width="1" height="15" fill="#000"/>
<rect x="1191" y="383" width="7" height="8" fill="#000"/>
<rect x="1192" y="384" width="5" height="6" fill="#ff0000"/>
<rect x="1204" y="384" width="1" height="30" fill="#000"/>
<rect x="1201" y="387" width="7" height="23" fill="#000"/>
<rect x="1202" y="388" width="5" height="21" fill="#ff0000"/>
<rect x="1214" y="404" width="1" height="17" fill="#000"/>
<rect x="1211" y="410" width="7" height="8" fill="#000"/>
<rect x="1212" y="411" width="5" height="6" fill="#ff0000"/>
<rect x="1224" y="416" width="1" height="17" fill="#000"/>
<rect x="1221" y="418" width="7" height="12" fill="#000"/>
<rect x="1222" y="419" width="5" height="10" fill="#ff0000"/>
<rect x="1234" y="414" width="1" height="27" fill="#000"/>
<rect x="1231" y="426" width="7" height="13" fill="#000"/>
<rect x="1232" y="427" width="5" height="11" fill="#ff0000"/>
<rect x="1244" y="435" width="1" height="26" fill="#000"/>
<rect x="1241" y="438" width="7" height="6" fill="#000"/>
<rect x="1242" y="439" width="5" height="4" fill="#ff0000"/>
<rect x="1254" y="436" width="1" height="33" fill="#000"/>
<rect x="1251" y="443" width="7" height="22" fill="#000"/>
<rect x="1252" y="444" width="5" height="20" fill="#ff0000"/>
<rect x="1264" y="404" width="1" height="90" fill="#000"/>
<rect x="1261" y="427" width="7" height="38" fill="#000"/>
<rect x="1262" y="428" width="5" height="36" fill="#90ee90"/>
<rect x="1274" y="397" width="1" height="32" fill="#000"/>
<rect x="1271" y="403" width="7" height="22" fill="#000"/>
<rect x="1272" y="404" width="5" height="20" fill="#90ee90"/>
<rect x="1284" y="395" width="1" height="40" fill="#000"/>
<rect x="1281" y="403" width="7" height="22" fill="#000"/>
<rect x="1282" y="404" width="5" height="20" fill="#ff0000"/>
<rect x="1294" y="416" width="1" height="27" fill="#000"/>
<rect x="1291" y="421" width="7" height="14" fill="#000"/>
<rect x="1292" y="422" width="5" height="12" fill="#ff0000"/>
<rect x="1304" y="428" width="1" height="27" fill="#000"/>
<rect x="1301" y="434" width="7" height="19" fill="#000"/>
<rect x="1302" y="435" width="5" height="17" fill="#ff0000"/>
<rect x="1314" y="444" width="1" height="22" fill="#000"/>
<rect x="1311" y="461" width="7" height="3" fill="#000"/>
<rect x="1312" y="462" width="5" height="1" fill="#ff0000"/>
<rect x="1324" y="421" width="1" height="40" fill="#000"/>
<rect x="1321" y="423" width="7" height="32" fill="#000"/>
<rect x="1322" y="424" width="5" height="30" fill="#90ee90"/>
<rect x="1334" y="402" width="1" height="25" fill="#000"/>
<rect x="1331" y="403" width="7" height="18" fill="#000"/>
<rect x="1332" y="404" width="5" height="16" fill="#90ee90"/>
<rect x="1344" y="400" width="1" height="18" fill="#000"/>
<rect x="1341" y="403" width="7" height="9" fill="#000"/>
<rect x="1342" y="404" width="5" height="7" fill="#ff0000"/>
<rect x="1354" y="406" width="1" height="12" fill="#000"/>
<rect x="1351" y="412" width="7" height="3" fill="#000"/>
<rect x="1352" y="413" width="5" height="1" fill="#90ee90"/>
<rect x="1364" y="402" width="1" height="21" fill="#000"/>
<rect x="1361" y="408" width="7" height="5" fill="#000"/>
<rect x="1362" y="409" width="5" height="3" fill="#ff0000"/>
<rect x="1374" y="408" width="1" height="39" fill="#000"/>
<rect x="1371" y="414" width="7" height="28" fill="#000"/>
<rect x="1372" y="415" width="5" height="26" fill="#ff0000"/>
<rect x="1384" y="438" width="1" height="23" fill="#000"/>
<rect x="1381" y="446" width="7" height="13" fill="#000"/>
<rect x="1382" y="447" width="5" height="11" fill="#ff0000"/>
<rect x="1394" y="442" width="1" height="20" fill="#000"/>
<rect x="1391" y="449" width="7" height="11" fill="#000"/>
<rect x="1392" y="450" width="5" height="9" fill="#90ee90"/>
<rect x="1404" y="425" width="1" height="28" fill="#000"/>
<rect x="1401" y="446" width="7" height="2" fill="#000"/>
<rect x="1414" y="440" width="1" height="25" fill="#000"/>
<rect x="1411" y="453" width="7" height="9" fill="#000"/>
<rect x="1412" y="454" width="5" height="7" fill="#ff0000"/>
<rect x="1424" y="448" width="1" height="35" fill="#000"/>
<rect x="1421" y="463" width="7" height="15" fill="#000"/>
<rect x="1422" y="464" width="5" height="13" fill="#ff0000"/>
<rect x="1434" y="464" width="1" height="21" fill="#000"/>
<rect x="1431" y="477" width="7" height="6" fill="#000"/>
<rect x="1432" y="478" width="5" height="4" fill="#90ee90"/>
<rect x="1444" y="419" width="1" height="61" fill="#000"/>
<rect x="1441" y="428" width="7" height="48" fill="#000"/>
<rect x="1442" y="429" width="5" height="46" fill="#90ee90"/>
<rect x="1454" y="362" width="1" height="65" fill="#000"/>
<rect x="1451" y="372" width="7" height="55" fill="#000"/>
<rect x="1452" y="373" width="5" height="53" fill="#90ee90"/>
<rect x="1464" y="352" width="1" height="51" fill="#000"/>
<rect x="1461" y="366" width="7" height="2" fill="#000"/>
<rect x="1474" y="357" width="1" height="24" fill="#000"/>
<rect x="1471" y="370" width="7" height="6" fill="#000"/>
<rect x="1472" y="371" width="5" height="4" fill="#ff0000"/>
<rect x="1484" y="384" width="1" height="23" fill="#000"/>
<rect x="1481" y="384" width="7" height="12" fill="#000"/>
<rect x="1482" y="385" width="5" height="10" fill="#ff0000"/>
<rect x="1494" y="389" width="1" height="19" fill="#000"/>
<rect x="1491" y="393" width="7" height="3" fill="#000"/>
<rect x="1492" y="394" width="5" height="1" fill="#90ee90"/>
<rect x="1504" y="384" width="1" height="14" fill="#000"/>
<rect x="1501" y="392" width="7" height="4" fill="#000"/>
<rect x="1502" y="393" width="5" height="2" fill="#ff0000"/>
<rect x="1514" y="367" width="1" height="22" fill="#000"/>
<rect x="1511" y="376" width="7" height="7" fill="#000"/>
<rect x="1512" y="377" width="5" height="5" fill="#90ee90"/>
<rect x="1524" y="371" width="1" height="26" fill="#000"/>
<rect x="1521" y="377" width="7" height="20" fill="#000"/>
<rect x="1522" y="378" width="5" height="18" fill="#ff0000"/>
<rect x="1534" y="383" width="1" height="19" fill="#000"/>
<rect x="1531" y="393" width="7" height="3" fill="#000"/>
<rect x="1532" y="394" width="5" height="1" fill="#90ee90"/>
<rect x="1544" y="338" width="1" height="59" fill="#000"/>
<rect x="1541" y="342" width="7" height="48" fill="#000"/>
<rect x="1542" y="343" width="5" height="46" fill="#90ee90"/>
<rect x="1554" y="326" width="1" height="22" fill="#000"/>
<rect x="1551" y="338" width="7" height="7" fill="#000"/>
<rect x="1552" y="339" width="5" height="5" fill="#90ee90"/>
<rect x="1564" y="321" width="1" height="17" fill="#000"/>
<rect x="1561" y="329" width="7" height="3" fill="#000"/>
<rect x="1562" y="330" width="5" height="1" fill="#90ee90"/>
<rect x="1574" y="320" width="1" height="40" fill="#000"/>
<rect x="1571" y="331" width="7" height="13" fill="#000"/>
<rect x="1572" y="332" width="5" height="11" fill="#ff0000"/>
<rect x="1584" y="347" width="1" height="42" fill="#000"/>
<rect x="1581" y="347" width="7" height="40" fill="#000"/>
<rect x="1582" y="348" width="5" height="38" fill="#ff0000"/>
<rect x="1594" y="365" width="1" height="22" fill="#000"/>
<rect x="1591" y="381" width="7" height="2" fill="#000"/>
<rect x="1604" y="370" width="1" height="36" fill="#000"/>
<rect x="1601" y="376" width="7" height="29" fill="#000"/>
<rect x="1602" y="377" width="5" height="27" fill="#ff0000"/>
<rect x="1614" y="394" width="1" height="16" fill="#000"/>
<rect x="1611" y="401" width="7" height="5" fill="#000"/>
<rect x="1612" y="402" width="5" height="3" fill="#ff0000"/>
<rect x="1624" y="367" width="1" height="45" fill="#000"/>
<rect x="1621" y="380" width="7" height="22" fill="#000"/>
<rect x="1622" y="381" width="5" height="20" fill="#90ee90"/>
<rect x="1634" y="369" width="1" height="33" fill="#000"/>
<rect x="1631" y="380" width="7" height="14" fill="#000"/>
<rect x="1632" y="381" width="5" height="12" fill="#ff0000"/>
<rect x="1644" y="388" width="1" height="18" fill="#000"/>
<rect x="1641" y="392" width="7" height="2" fill="#000"/>
<rect x="1654" y="384" width="1" height="20" fill="#000"/>
<rect x="1651" y="389" width="7" height="9" fill="#000"/>
<rect x="1652" y="390" width="5" height="7" fill="#ff0000"/>
<rect x="1664" y="397" width="1" height="27" fill="#000"/>
<rect x="1661" y="400" width="7" height="10" fill="#000"/>
<rect x="1662" y="401" width="5" height="8" fill="#ff0000"/>
<rect x="1674" y="413" width="1" height="32" fill="#000"/>
<rect x="1671" y="415" width="7" height="24" fill="#000"/>
<rect x="1672" y="416" width="5" height="22" fill="#ff0000"/>
<rect x="1684" y="416" width="1" height="27" fill="#000"/>
<rect x="1681" y="427" width="7" height="13" fill="#000"/>
<rect x="1682" y="428" width="5" height="11" fill="#90ee90"/>
<rect x="1694" y="382" width="1" height="56" fill="#000"/>
<rect x="1691" y="400" width="7" height="26" fill="#000"/>
<rect x="1692" y="401" width="5" height="24" fill="#90ee90"/>
<rect x="1704" y="351" width="1" height="48" fill="#000"/>
<rect x="1701" y="358" width="7" height="26" fill="#000"/>
<rect x="1702" y="359" width="5" height="24" fill="#90ee90"/>
<rect x="1714" y="347" width="1" height="35" fill="#000"/>
<rect x="1711" y="353" width="7" height="6" fill="#000"/>
<rect x="1712" y="354" width="5" height="4" fill="#90ee90"/>
<rect x="1724" y="358" width="1" height="26" fill="#000"/>
<rect x="1721" y="361" width="7" height="14" fill="#000"/>
<rect x="1722" y="362" width="5" height="12" fill="#ff0000"/>
<rect x="1734" y="338" width="1" height="37" fill="#000"/>
<rect x="1731" y="346" width="7" height="29" fill="#000"/>
<rect x="1732" y="347" width="5" height="27" fill="#90ee90"/>
<rect x="1744" y="335" width="1" height="20" fill="#000"/>
<rect x="1741" y="341" width="7" height="3" fill="#000"/>
<rect x="1742" y="342" width="5" height="1" fill="#90ee90"/>
<rect x="1754" y="331" width="1" height="57" fill="#000"/>
<rect x="1751" y="338" width="7" height="37" fill="#000"/>
<rect x="1752" y="339" width="5" height="35" fill="#ff0000"/>
<rect x="1764" y="354" width="1" height="25" fill="#000"/>
<rect x="1761" y="369" width="7" height="5" fill="#000"/>
<rect x="1762" y="370" width="5" height="3" fill="#90ee90"/>
<rect x="1774" y="339" width="1" height="36" fill="#000"/>
<rect x="1771" y="354" width="7" height="18" fill="#000"/>
<rect x="1772" y="355" width="5" height="16" fill="#90ee90"/>
<rect x="1784" y="335" width="1" height="39" fill="#000"/>
<rect x="1781" y="346" width="7" height="20" fill="#000"/>
<rect x="1782" y="347" width="5" height="18" fill="#ff0000"/>
<rect x="1794" y="360" width="1" height="30" fill="#000"/>
<rect x="1791" y="365" width="7" height="14" fill="#000"/>
<rect x="1792" y="366" width="5" height="12" fill="#ff0000"/>
<rect x="1804" y="362" width="1" height="25" fill="#000"/>
<rect x="1801" y="366" width="7" height="13" fill="#000"/>
<rect x="1802" y="367" width="5" height="11" fill="#90ee90"/>
<rect x="1814" y="359" width="1" height="22" fill="#000"/>
<rect x="1811" y="366" width="7" height="13" fill="#000"/>
<rect x="1812" y="367" width="5" height="11" fill="#ff0000"/>
<rect x="1824" y="376" width="1" height="24" fill="#000"/>
<rect x="1821" y="380" width="7" height="16" fill="#000"/>
<rect x="1822" y="381" width="5" height="14" fill="#ff0000"/>
<rect x="1834" y="383" width="1" height="20" fill="#000"/>
<rect x="1831" y="393" width="7" height="3" fill="#000"/>
<rect x="1832" y="394" width="5" height="1" fill="#ff0000"/>
<rect x="1844" y="383" width="1" height="21" fill="#000"/>
<rect x="1841" y="392" width="7" height="6" fill="#000"/>
<rect x="1842" y="393" width="5" height="4" fill="#ff0000"/>
</g>
<polyline points="14.5,48.8 24.5,50.4 34.5,52.0 44.5,53.5 54.5,55.1 64.5,58.1 74.5,60.1 84.5,61.3 94.5,61.3 104.5,60.5 114.5,61.8 124.5,63.5 134.5,63.5 144.5,63.5 154.5,61.0 164.5,58.1 174.5,54.3 184.5,47.6 194.5,43.4 204.5,40.4 214.5,40.4 224.5,41.4 234.5,38.4 244.5,35.6 254.5,37.1 264.5,37.2 274.5,40.1 284.5,43.4 294.5,46.3 304.5,47.6 314.5,50.6 324.5,54.3 334.5,58.0 344.5,61.8 354.5,65.6 364.5,69.3 374.5,71.2 384.5,73.2 394.5,75.1 404.5,77.8 414.5,80.6 424.5,82.5 434.5,84.5 444.5,84.5 454.5,82.6 464.5,83.0 474.5,83.5 484.5,84.5 494.5,82.6 504.5,80.5 514.5,80.5 524.5,79.5 534.5,75.5 544.5,74.3 554.5,72.4 564.5,72.4 574.5,71.3 584.5,73.4 594.5,76.5 604.5,79.5 614.5,82.8 624.5,86.0 634.5,88.5 644.5,92.5 654.5,95.6 664.5,98.8 674.5,102.8 684.5,105.4 694.5,107.2 704.5,110.2 714.5,114.4 724.5,116.5 734.5,118.5 744.5,120.6 754.5,122.8 764.5,126.5 774.5,129.8 784.5,134.4 794.5,137.5 804.5,140.6 814.5,141.5 824.5,143.8 834.5,146.9 844.5,150.0 854.5,152.8 864.5,154.8 874.5,157.0 884.5,158.2 894.5,159.5 904.5,162.0 914.5,163.2 924.5,164.5 934.5,164.5 944.5,163.4 954.5,160.4 964.5,159.4 974.5,159.6 984.5,160.6 994.5,161.5 1004.5,160.4 1014.5,159.4 1024.5,158.5 1034.5,158.5 1044.5,163.1 1054.5,166.9 1064.5,170.9 1074.5,174.8 1084.5,178.8 1094.5,185.0 1104.5,190.6 1114.5,195.4 1124.5,202.5 1134.5,210.0 1144.5,216.9 1154.5,223.8 1164.5,230.5 1174.5,240.2 1184.5,246.0 1194.5,251.0 1204.5,256.4 1214.5,261.9 1224.5,266.9 1234.5,271.9 1244.5,277.1 1254.5,282.3 1264.5,285.4 1274.5,286.5 1284.5,288.5 1294.5,291.7 1304.5,294.8 1314.5,297.6 1324.5,298.3 1334.5,298.6 1344.5,299.7 1354.5,300.4 1364.5,300.5 1374.5,301.5 1384.5,304.6 1394.5,306.7 1404.5,308.8 1414.5,311.7 1424.5,314.6 1434.5,317.4 1444.5,317.4 1454.5,313.0 1464.5,309.2 1474.5,307.2 1484.5,305.4 1494.5,305.4 1504.5,304.2 1514.5,302.2 1524.5,303.0 1534.5,303.0 1544.5,300.2 1554.5,298.2 1564.5,296.2 1574.5,295.2 1584.5,297.5 1594.5,300.7 1604.5,305.4 1614.5,311.2 1624.5,316.2 1634.5,320.4 1644.5,324.2 1654.5,327.8 1664.5,331.8 1674.5,337.6 1684.5,342.6 1694.5,345.5 1704.5,343.1 1714.5,341.3 1724.5,340.3 1734.5,336.3 1744.5,332.3 1754.5,332.5 1764.5,331.5 1774.5,328.5 1784.5,326.5 1794.5,326.5 1804.5,325.4 1814.5,325.4 1824.5,327.9 1834.5,330.0 1844.5,331.4" fill="none" stroke="#008000" stroke-width="1.0" stroke-linejoin="round" />
<polyline points="14.5,167.5 24.5,169.0 34.5,170.5 44.5,171.8 54.5,173.8 64.5,178.0 74.5,181.4 84.5,182.5 94.5,180.9 104.5,179.2 114.5,179.8 124.5,180.5 134.5,180.1 144.5,179.7 154.5,176.4 164.5,172.2 174.5,168.0 184.5,162.1 194.5,158.0 204.5,153.4 214.5,152.8 224.5,152.1 234.5,149.4 244.5,146.8 254.5,138.7 264.5,134.9 274.5,132.5 284.5,135.4 294.5,136.0 304.5,136.6 314.5,138.8 324.5,141.1 334.5,143.7 344.5,146.5 354.5,149.2 364.5,152.0 374.5,154.5 384.5,157.1 394.5,159.6 404.5,165.4 414.5,169.6 424.5,172.9 434.5,174.3 444.5,174.3 454.5,172.9 464.5,172.8 474.5,172.6 484.5,168.8 494.5,163.7 504.5,161.6 514.5,161.6 524.5,159.3 534.5,157.1 544.5,155.2 554.5,153.4 564.5,152.4 574.5,151.2 584.5,153.2 594.5,156.2 604.5,160.1 614.5,164.6 624.5,170.4 634.5,177.0 644.5,183.9 654.5,191.0 664.5,196.8 674.5,206.0 684.5,214.4 694.5,225.3 704.5,233.6 714.5,243.6 724.5,250.0 734.5,257.0 744.5,263.7 754.5,268.4 764.5,276.3 774.5,286.3 784.5,292.1 794.5,298.0 804.5,301.3 814.5,305.2 824.5,308.5 834.5,311.9 844.5,316.0 854.5,318.0 864.5,320.0 874.5,322.0 884.5,324.0 894.5,326.0 904.5,328.0 914.5,329.3 924.5,330.7 934.5,332.0 944.5,330.3 954.5,328.7 964.5,327.0 974.5,327.7 984.5,328.3 994.5,329.0 1004.5,328.2 1014.5,327.4 1024.5,326.6 1034.5,326.6 1044.5,331.3 1054.5,335.5 1064.5,339.7 1074.5,343.0 1084.5,345.2 1094.5,347.2 1104.5,350.7 1114.5,355.5 1124.5,361.0 1134.5,364.9 1144.5,368.5 1154.5,371.8 1164.5,376.4 1174.5,381.0 1184.5,386.9 1194.5,392.7 1204.5,403.6 1214.5,414.5 1224.5,425.4 1234.5,435.4 1244.5,446.3 1254.5,460.5 1264.5,465.5 1274.5,469.7 1284.5,475.8 1294.5,482.8 1304.5,490.8 1314.5,500.4 1324.5,503.2 1334.5,503.6 1344.5,504.6 1354.5,505.6 1364.5,507.5 1374.5,512.3 1384.5,518.2 1394.5,523.6 1404.5,526.4 1414.5,531.4 1424.5,538.1 1434.5,544.5 1444.5,543.7 1454.5,537.4 1464.5,530.6 1474.5,525.5 1484.5,523.4 1494.5,520.7 1504.5,518.7 1514.5,513.7 1524.5,511.2 1534.5,508.7 1544.5,501.2 1554.5,492.8 1564.5,483.6 1574.5,475.6 1584.5,473.2 1594.5,470.2 1604.5,467.7 1614.5,465.6 1624.5,459.4 1634.5,455.5 1644.5,453.2 1654.5,451.5 1664.5,450.5 1674.5,452.3 1684.5,453.5 1694.5,450.7 1704.5,445.5 1714.5,441.3 1724.5,438.1 1734.5,434.8 1744.5,431.6 1754.5,429.9 1764.5,428.8 1774.5,428.1 1784.5,427.5 1794.5,426.9 1804.5,426.3 1814.5,426.9 1824.5,428.1 1834.5,429.4 1844.5,430.5" fill="none" stroke="#ff0000" stroke-width="1.0" stroke-linejoin="round" />
<polyline points="14.5,108.3 24.5,109.7 34.5,111.1 44.5,112.5 54.5,114.5 64.5,118.2 74.5,120.3 84.5,121.5 94.5,121.5 104.5,120.7 114.5,120.3 124.5,121.7 134.5,122.3 144.5,121.7 154.5,119.0 164.5,115.0 174.5,111.1 184.5,105.3 194.5,101.1 204.5,97.8 214.5,96.6 224.5,97.4 234.5,94.7 244.5,91.6 254.5,88.6 264.5,85.7 274.5,87.2 284.5,89.4 294.5,91.6 304.5,92.7 314.5,95.3 324.5,98.4 334.5,101.5 344.5,104.2 354.5,106.9 364.5,110.2 374.5,111.4 384.5,114.0 394.5,116.6 404.5,120.8 414.5,124.1 424.5,127.3 434.5,129.5 444.5,129.5 454.5,127.8 464.5,127.8 474.5,127.8 484.5,126.5 494.5,122.8 504.5,120.6 514.5,120.6 524.5,119.4 534.5,116.9 544.5,114.6 554.5,113.6 564.5,112.4 574.5,111.4 584.5,113.1 594.5,116.1 604.5,120.3 614.5,124.4 624.5,128.6 634.5,132.5 644.5,137.0 654.5,141.8 664.5,147.2 674.5,154.2 684.5,159.8 694.5,165.4 704.5,170.9 714.5,177.6 724.5,182.6 734.5,186.8 744.5,191.8 754.5,195.2 764.5,201.0 774.5,206.9 784.5,212.7 794.5,216.9 804.5,220.2 814.5,223.2 824.5,225.3 834.5,228.6 844.5,231.9 854.5,233.6 864.5,235.3 874.5,238.3 884.5,241.1 894.5,243.3 904.5,246.2 914.5,248.7 924.5,249.5 934.5,249.0 944.5,247.8 954.5,245.3 964.5,243.2 974.5,243.5 984.5,245.2 994.5,245.2 1004.5,243.8 1014.5,243.2 1024.5,242.2 1034.5,242.7 1044.5,246.9 1054.5,251.0 1064.5,254.4 1074.5,256.9 1084.5,261.1 1094.5,264.9 1104.5,268.6 1114.5,274.4 1124.5,281.1 1134.5,287.8 1144.5,292.8 1154.5,298.7 1164.5,304.5 1174.5,310.4 1184.5,316.3 1194.5,322.9 1204.5,330.5 1214.5,338.8 1224.5,347.2 1234.5,355.1 1244.5,363.3 1254.5,371.5 1264.5,375.2 1274.5,378.5 1284.5,382.7 1294.5,387.7 1304.5,392.7 1314.5,397.8 1324.5,401.4 1334.5,402.0 1344.5,402.3 1354.5,402.3 1364.5,403.3 1374.5,407.0 1384.5,411.1 1394.5,414.0 1404.5,417.0 1414.5,422.0 1424.5,427.1 1434.5,430.4 1444.5,430.1 1454.5,426.3 1464.5,421.2 1474.5,416.6 1484.5,414.5 1494.5,412.9 1504.5,411.5 1514.5,409.0 1524.5,407.9 1534.5,406.5 1544.5,401.2 1554.5,396.2 1564.5,390.8 1574.5,385.6 1584.5,385.6 1594.5,386.1 1604.5,387.0 1614.5,388.3 1624.5,387.8 1634.5,388.6 1644.5,389.0 1654.5,389.5 1664.5,391.5 1674.5,395.7 1684.5,398.7 1694.5,398.3 1704.5,394.2 1714.5,390.6 1724.5,388.8 1734.5,385.6 1744.5,382.3 1754.5,381.5 1764.5,380.6 1774.5,378.8 1784.5,377.5 1794.5,377.5 1804.5,376.9 1814.5,376.9 1824.5,378.5 1834.5,379.8 1844.5,380.8" fill="none" stroke="#008000" stroke-width="1.0" stroke-linejoin="round" />
<polyline points="14.5,127.4 24.5,125.7 34.5,127.5 44.5,126.5 54.5,128.4 64.5,132.9 74.5,135.4 84.5,135.1 94.5,131.2 104.5,127.9 114.5,127.4 124.5,129.5 134.5,129.2 144.5,127.0 154.5,119.5 164.5,112.8 174.5,105.3 184.5,95.3 194.5,88.9 204.5,83.5 214.5,84.4 224.5,87.7 234.5,83.5 244.5,79.4 254.5,75.5 264.5,73.5 274.5,76.9 284.5,83.2 294.5,87.7 304.5,90.2 314.5,95.3 324.5,100.7 334.5,106.0 344.5,111.9 354.5,116.1 364.5,120.3 374.5,122.3 384.5,125.3 394.5,128.3 404.5,133.6 414.5,138.7 424.5,142.0 434.5,143.3 444.5,140.0 454.5,135.7 464.5,134.5 474.5,133.6 484.5,131.1 494.5,122.8 504.5,118.6 514.5,118.3 524.5,116.1 534.5,111.6 544.5,109.4 554.5,106.6 564.5,106.6 574.5,105.6 584.5,110.2 594.5,116.1 604.5,122.8 614.5,130.3 624.5,137.8 634.5,144.8 644.5,151.0 654.5,159.2 664.5,165.9 674.5,175.9 684.5,182.6 694.5,189.3 704.5,196.0 714.5,206.0 724.5,211.5 734.5,213.5 744.5,217.7 754.5,221.1 764.5,227.8 774.5,235.3 784.5,241.1 794.5,244.5 804.5,245.7 814.5,247.0 824.5,249.0 834.5,251.2 844.5,253.3 854.5,254.5 864.5,253.3 874.5,254.0 884.5,257.0 894.5,258.7 904.5,262.4 914.5,264.5 924.5,262.9 934.5,259.5 944.5,255.7 954.5,250.3 964.5,245.5 974.5,244.8 984.5,248.5 994.5,248.5 1004.5,244.8 1014.5,243.5 1024.5,241.5 1034.5,242.7 1044.5,250.2 1054.5,256.9 1064.5,262.7 1074.5,268.6 1084.5,274.4 1094.5,279.5 1104.5,285.3 1114.5,293.7 1124.5,303.7 1134.5,311.2 1144.5,318.8 1154.5,325.5 1164.5,332.1 1174.5,339.7 1184.5,346.3 1194.5,352.6 1204.5,362.6 1214.5,371.8 1224.5,381.9 1234.5,391.9 1244.5,399.4 1254.5,410.3 1264.5,413.6 1274.5,411.6 1284.5,414.5 1294.5,417.0 1304.5,423.7 1314.5,430.4 1324.5,428.7 1334.5,424.5 1344.5,422.3 1354.5,420.7 1364.5,419.8 1374.5,422.8 1384.5,428.7 1394.5,432.9 1404.5,435.1 1414.5,441.3 1424.5,447.2 1434.5,451.7 1444.5,448.0 1454.5,434.6 1464.5,423.7 1474.5,415.7 1484.5,412.0 1494.5,408.4 1504.5,406.2 1514.5,401.5 1524.5,400.7 1534.5,399.5 1544.5,391.6 1554.5,381.9 1564.5,372.7 1574.5,368.2 1584.5,371.6 1594.5,372.4 1604.5,377.8 1614.5,382.3 1624.5,382.3 1634.5,384.4 1644.5,385.6 1654.5,387.3 1664.5,391.6 1674.5,398.7 1684.5,403.3 1694.5,403.3 1704.5,395.0 1714.5,388.5 1724.5,386.0 1734.5,379.8 1744.5,373.5 1754.5,374.1 1764.5,373.1 1774.5,369.8 1784.5,369.4 1794.5,370.6 1804.5,370.0 1814.5,371.5 1824.5,376.3 1834.5,379.4 1844.5,381.5" fill="none" stroke="#ffa500" stroke-width="1.05" stroke-linejoin="round" />
<polygon points="1852.5,331 1858.5,324.5 1884.5,324.5 1884.5,337.5 1858.5,337.5" fill="#008000" stroke="#000" stroke-width="1"/>
<text x="1860" y="335.2" font-family="Liberation Sans, sans-serif" font-size="11px" fill="#fff">2466</text>
<polygon points="1852.5,381 1858.5,374.5 1884.5,374.5 1884.5,387.5 1858.5,387.5" fill="#008000" stroke="#000" stroke-width="1"/>
<text x="1860" y="385.2" font-family="Liberation Sans, sans-serif" font-size="11px" fill="#fff">2325</text>
<polygon points="1852.5,382 1858.5,375.5 1884.5,375.5 1884.5,388.5 1858.5,388.5" fill="#ffa500" stroke="#000" stroke-width="1"/>
<text x="1860" y="386.2" font-family="Liberation Sans, sans-serif" font-size="11px" fill="#000">2323</text>
<polygon points="1852.5,397 1858.5,390.5 1884.5,390.5 1884.5,403.5 1858.5,403.5" fill="#000" stroke="#000" stroke-width="1"/>
<text x="1860" y="401.2" font-family="Liberation Sans, sans-serif" font-size="11px" fill="#fff">2277</text>
<polygon points="1852.5,430 1858.5,423.5 1884.5,423.5 1884.5,436.5 1858.5,436.5" fill="#ff0000" stroke="#000" stroke-width="1"/>
<text x="1860" y="434.2" font-family="Liberation Sans, sans-serif" font-size="11px" fill="#fff">2183</text>
</svg>
<div id="db">
<div class="glass"><svg width="253" height="24" style="position:absolute;left:0;top:0"><defs><filter id="bl" x="-20%" y="-300%" width="140%" height="700%"><feGaussianBlur stdDeviation="3.4"/></filter></defs><path d="M66 -2 C 100 3, 135 13, 165 17 S 192 12, 205 12 S 232 15, 254 12" fill="none" stroke="#ff5a5a" stroke-width="6" opacity=".34" filter="url(#bl)"/></svg></div>
<i class="see" style="left:0;top:265px"></i><i class="see" style="left:246px;top:265px"></i><i class="see" style="left:0;top:458px"></i><i class="see" style="left:246px;top:458px"></i>
<div class="ttl"><span>Data Box</span></div>
<div class="cls"><svg width="17" height="17" viewBox="0 0 17 17"><path d="M5.9 5.9 L11.1 11.1 M11.1 5.9 L5.9 11.1" stroke="#454a66" stroke-width="3.4" stroke-linecap="butt"/><path d="M6.7 6.7 L10.3 10.3 M10.3 6.7 L6.7 10.3" stroke="#fff" stroke-width="1.5" stroke-linecap="square"/></svg></div>
<div class="cli"><div class="cli2"><div class="cli3">
<div class="rows">
<div class="r" style="top:1px"><div class="k" style="background:#000;color:#fff"><span>Week</span></div><div class="dv"></div><div class="v" style="background:#000;color:#fff"><span>10/2012</span></div></div>
<div class="r pn" style="top:20px"><span>Panel 1</span></div>
<div class="r hd" style="top:39px"><span>CC 05-12 / Daily</span></div>
<div class="r" style="top:58px"><div class="k" style="background:#fff;color:#000"><span>Date</span></div><div class="dv"></div><div class="v" style="background:#fff;color:#000"><span>07.03.2012 20:00</span></div></div>
<div class="r" style="top:77px"><div class="k" style="background:#fff;color:#000"><span>Price</span></div><div class="dv"></div><div class="v" style="background:#fff;color:#000"><span>N/A</span></div></div>
<div class="r" style="top:96px"><div class="k" style="background:#fff;color:#000"><span>Open</span></div><div class="dv"></div><div class="v" style="background:#fff;color:#000"><span>2292</span></div></div>
<div class="r" style="top:115px"><div class="k" style="background:#fff;color:#000"><span>High</span></div><div class="dv"></div><div class="v" style="background:#fff;color:#000"><span>2317</span></div></div>
<div class="r" style="top:134px"><div class="k" style="background:#fff;color:#000"><span>Low</span></div><div class="dv"></div><div class="v" style="background:#fff;color:#000"><span>2260</span></div></div>
<div class="r" style="top:153px"><div class="k" style="background:#fff;color:#000"><span>Close</span></div><div class="dv"></div><div class="v" style="background:#fff;color:#000"><span>2277</span></div></div>
<div class="r" style="top:172px"><div class="k" style="background:#fff;color:#000"><span>Volume</span></div><div class="dv"></div><div class="v" style="background:#fff;color:#000"><span>5.926</span></div></div>
<div class="r hd" style="top:191px"><span>EMA(CC 05-12 (Daily),22)</span></div>
<div class="r" style="top:210px"><div class="k" style="background:#008000;color:#fff"><span>EMA</span></div><div class="dv"></div><div class="v" style="background:#fff;color:#000"><span>2325</span></div></div>
<div class="r hd" style="top:229px"><span>EMA(CC 05-12 (Daily),11)</span></div>
<div class="r" style="top:248px"><div class="k" style="background:#ffa500;color:#000"><span>EMA</span></div><div class="dv"></div><div class="v" style="background:#fff;color:#000"><span>2323</span></div></div>
<div class="r hd" style="top:267px"><span>AutoEnvelope(CC 05-12 (Daily),22,2,7,60)</span></div>
<div class="r" style="top:286px"><div class="k" style="background:#008000;color:#fff"><span>UpperChannel</span></div><div class="dv"></div><div class="v" style="background:#fff;color:#000"><span>2466</span></div></div>
<div class="r" style="top:305px"><div class="k" style="background:#ff0000;color:#000"><span>LowerChannel</span></div><div class="dv"></div><div class="v" style="background:#fff;color:#000"><span>2183</span></div></div>
<div class="r pn" style="top:324px"><span>Panel 2</span></div>
<div class="r hd" style="top:343px"><span>ForceIndex(CC 05-12 (Daily),EMA,2,EMA,13)</span></div>
<div class="r" style="top:362px"><div class="k" style="background:#ff0000;color:#000"><span>FastLine</span></div><div class="dv"></div><div class="v" style="background:#fff;color:#000"><span>-65624,34</span></div></div>
<div class="r" style="top:381px"><div class="k" style="background:#000;color:#fff"><span>SlowLine</span></div><div class="dv"></div><div class="v" style="background:#fff;color:#000"><span>-77160,91</span></div></div>
<div class="r pn" style="top:400px"><span>Panel 3</span></div>
</div>
<div class="vs"><div class="ua"></div><div class="vt"><i></i></div><div class="da"></div></div>
<div class="hs"><div class="la"></div><div class="ht"><i></i></div><div class="ra"></div></div>
</div></div></div>
</div>
<svg id="arr" width="1920" height="969" viewBox="0 0 1920 969">
<defs><filter id="sh" x="-20%" y="-20%" width="140%" height="140%"><feGaussianBlur in="SourceAlpha" stdDeviation="2"/><feOffset dx="3.5" dy="3.5"/><feComponentTransfer><feFuncA type="linear" slope=".5"/></feComponentTransfer><feMerge><feMergeNode/><feMergeNode in="SourceGraphic"/></feMerge></filter></defs>
<g filter="url(#sh)" fill="#c00000" stroke="none">
<path d="M1144.8 561.1 L953.2 507.3 L954.8 501.5 L938.8 504.8 L950.7 515.9 L952.4 510.2 L1144.0 563.9 Z"/>
<path d="M1815.3 474.7 L1829.9 422.3 L1835.4 423.8 L1832.3 407.9 L1821.4 419.9 L1827.0 421.5 L1812.5 473.9 Z"/>
<path d="M1837.1 480.6 L1844.2 421.3 L1849.9 422.0 L1844.4 407.2 L1835.5 420.2 L1841.2 420.9 L1834.1 480.2 Z"/>
</g></svg>
</body></html>
